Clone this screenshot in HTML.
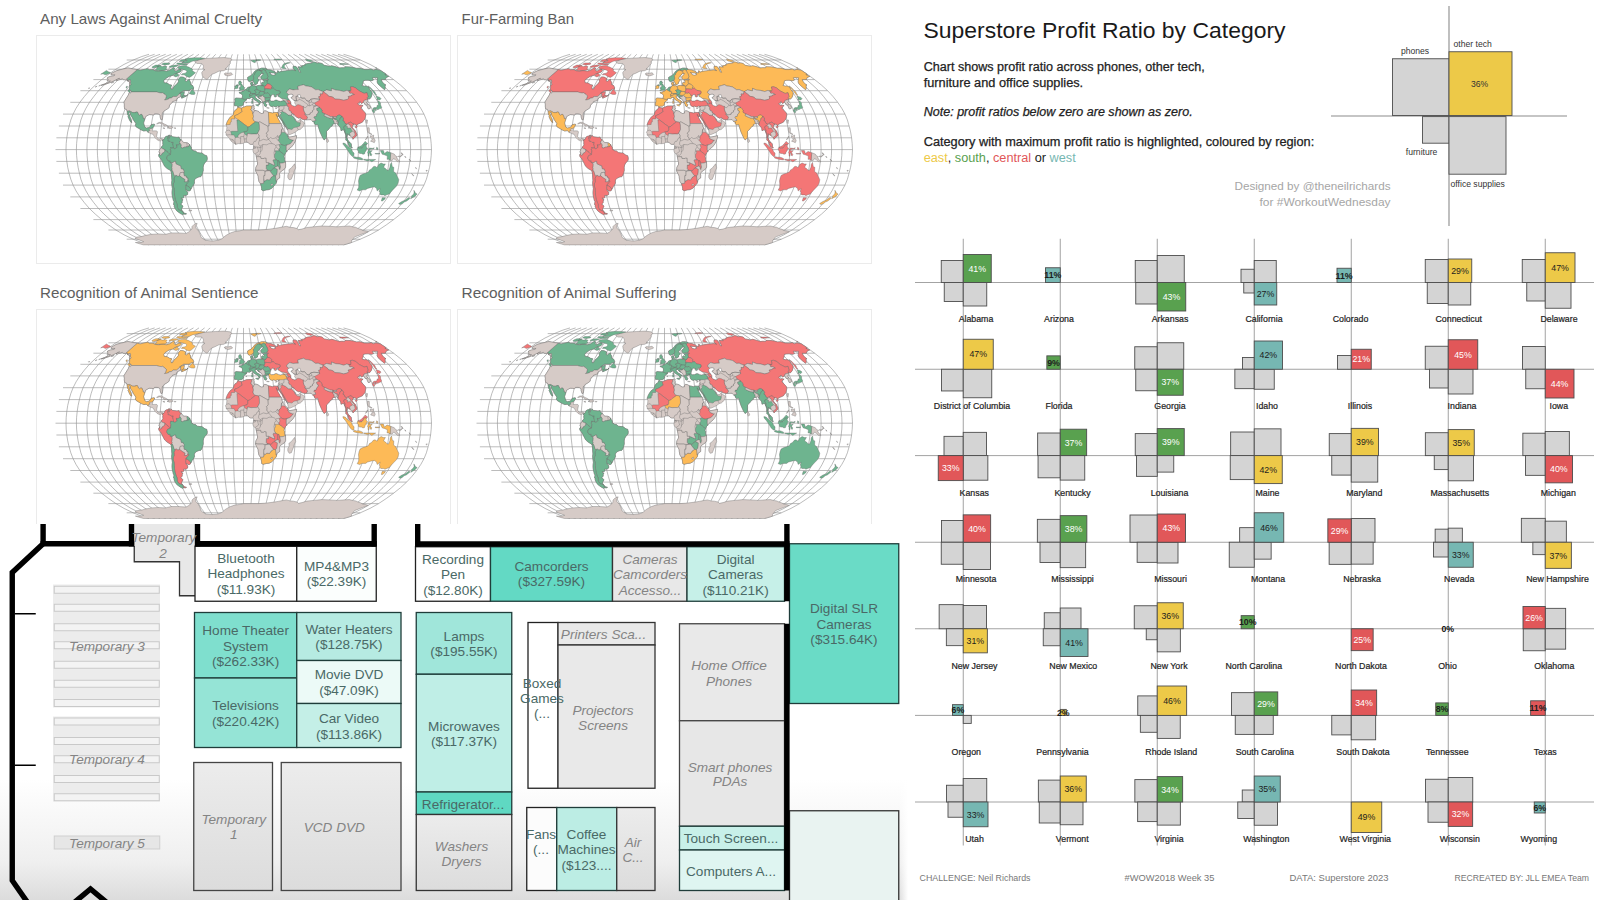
<!DOCTYPE html>
<html lang="en"><head><meta charset="utf-8"><title>Dashboard</title>
<style>html,body{margin:0;padding:0;background:#fff;overflow:hidden}svg{display:block}text{font-family:'Liberation Sans', Arial, sans-serif;}</style>
</head><body>
<svg width="1600" height="900" viewBox="0 0 1600 900">
<rect width="1600" height="900" fill="#fff"/>
<rect x="36.5" y="35.5" width="414" height="228" fill="#fff" stroke="#ebebeb" stroke-width="1"/>
<rect x="457.5" y="35.5" width="414" height="228" fill="#fff" stroke="#ebebeb" stroke-width="1"/>
<rect x="36.5" y="309.5" width="414" height="228" fill="#fff" stroke="#ebebeb" stroke-width="1"/>
<rect x="457.5" y="309.5" width="414" height="228" fill="#fff" stroke="#ebebeb" stroke-width="1"/>
<text x="40" y="24" font-size="15" fill="#5e5e5e" textLength="222" lengthAdjust="spacingAndGlyphs">Any Laws Against Animal Cruelty</text>
<text x="461.6" y="24" font-size="15" fill="#5e5e5e" textLength="112.5" lengthAdjust="spacingAndGlyphs">Fur-Farming Ban</text>
<text x="40" y="298" font-size="15" fill="#5e5e5e" textLength="218.5" lengthAdjust="spacingAndGlyphs">Recognition of Animal Sentience</text>
<text x="461.6" y="298" font-size="15" fill="#5e5e5e" textLength="215" lengthAdjust="spacingAndGlyphs">Recognition of Animal Suffering</text>
<g id="maps">
<defs>
<path id="grat" d="M-94.5,95.3L-101.6,93.1L-110.3,89.6L-119.5,85.2L-127.6,80.4L-134.9,75.3L-141.8,70.0L-148.2,64.5L-154.1,58.9L-159.1,53.1L-163.6,47.3L-167.4,41.4L-170.4,35.5L-172.7,29.6L-174.4,23.6L-175.8,17.7L-176.7,11.8L-177.3,5.9L-177.5,-0.0L-177.3,-5.9L-176.7,-11.8L-175.8,-17.7L-174.4,-23.6L-172.7,-29.6L-170.4,-35.5L-167.4,-41.4L-163.6,-47.3L-159.1,-53.1L-154.1,-58.9L-148.2,-64.5L-141.8,-70.0L-134.9,-75.3L-127.6,-80.4L-119.5,-85.2L-110.3,-89.6L-101.6,-93.1L-94.5,-95.3M-88.9,95.3L-95.6,93.1L-103.8,89.6L-112.5,85.2L-120.1,80.4L-126.9,75.3L-133.4,70.0L-139.5,64.5L-145.0,58.9L-149.7,53.1L-154.0,47.3L-157.5,41.4L-160.4,35.5L-162.6,29.6L-164.1,23.6L-165.4,17.7L-166.3,11.8L-166.9,5.9L-167.1,-0.0L-166.9,-5.9L-166.3,-11.8L-165.4,-17.7L-164.1,-23.6L-162.6,-29.6L-160.4,-35.5L-157.5,-41.4L-154.0,-47.3L-149.7,-53.1L-145.0,-58.9L-139.5,-64.5L-133.4,-70.0L-126.9,-75.3L-120.1,-80.4L-112.5,-85.2L-103.8,-89.6L-95.6,-93.1L-88.9,-95.3M-83.4,95.3L-89.6,93.1L-97.3,89.6L-105.5,85.2L-112.6,80.4L-119.0,75.3L-125.1,70.0L-130.8,64.5L-136.0,58.9L-140.4,53.1L-144.4,47.3L-147.7,41.4L-150.4,35.5L-152.4,29.6L-153.9,23.6L-155.1,17.7L-155.9,11.8L-156.4,5.9L-156.6,-0.0L-156.4,-5.9L-155.9,-11.8L-155.1,-17.7L-153.9,-23.6L-152.4,-29.6L-150.4,-35.5L-147.7,-41.4L-144.4,-47.3L-140.4,-53.1L-136.0,-58.9L-130.8,-64.5L-125.1,-70.0L-119.0,-75.3L-112.6,-80.4L-105.5,-85.2L-97.3,-89.6L-89.6,-93.1L-83.4,-95.3M-77.8,95.3L-83.7,93.1L-90.8,89.6L-98.4,85.2L-105.1,80.4L-111.1,75.3L-116.8,70.0L-122.1,64.5L-126.9,58.9L-131.0,53.1L-134.7,47.3L-137.8,41.4L-140.4,35.5L-142.3,29.6L-143.6,23.6L-144.7,17.7L-145.5,11.8L-146.0,5.9L-146.2,-0.0L-146.0,-5.9L-145.5,-11.8L-144.7,-17.7L-143.6,-23.6L-142.3,-29.6L-140.4,-35.5L-137.8,-41.4L-134.7,-47.3L-131.0,-53.1L-126.9,-58.9L-122.1,-64.5L-116.8,-70.0L-111.1,-75.3L-105.1,-80.4L-98.4,-85.2L-90.8,-89.6L-83.7,-93.1L-77.8,-95.3M-72.3,95.3L-77.7,93.1L-84.3,89.6L-91.4,85.2L-97.6,80.4L-103.1,75.3L-108.4,70.0L-113.4,64.5L-117.8,58.9L-121.7,53.1L-125.1,47.3L-128.0,41.4L-130.3,35.5L-132.1,29.6L-133.3,23.6L-134.4,17.7L-135.1,11.8L-135.6,5.9L-135.8,-0.0L-135.6,-5.9L-135.1,-11.8L-134.4,-17.7L-133.3,-23.6L-132.1,-29.6L-130.3,-35.5L-128.0,-41.4L-125.1,-47.3L-121.7,-53.1L-117.8,-58.9L-113.4,-64.5L-108.4,-70.0L-103.1,-75.3L-97.6,-80.4L-91.4,-85.2L-84.3,-89.6L-77.7,-93.1L-72.3,-95.3M-66.7,95.3L-71.7,93.1L-77.9,89.6L-84.4,85.2L-90.1,80.4L-95.2,75.3L-100.1,70.0L-104.6,64.5L-108.8,58.9L-112.3,53.1L-115.5,47.3L-118.1,41.4L-120.3,35.5L-121.9,29.6L-123.1,23.6L-124.1,17.7L-124.7,11.8L-125.1,5.9L-125.3,-0.0L-125.1,-5.9L-124.7,-11.8L-124.1,-17.7L-123.1,-23.6L-121.9,-29.6L-120.3,-35.5L-118.1,-41.4L-115.5,-47.3L-112.3,-53.1L-108.8,-58.9L-104.6,-64.5L-100.1,-70.0L-95.2,-75.3L-90.1,-80.4L-84.4,-85.2L-77.9,-89.6L-71.7,-93.1L-66.7,-95.3M-61.1,95.3L-65.7,93.1L-71.4,89.6L-77.3,85.2L-82.5,80.4L-87.3,75.3L-91.7,70.0L-95.9,64.5L-99.7,58.9L-102.9,53.1L-105.9,47.3L-108.3,41.4L-110.3,35.5L-111.8,29.6L-112.8,23.6L-113.7,17.7L-114.3,11.8L-114.7,5.9L-114.9,-0.0L-114.7,-5.9L-114.3,-11.8L-113.7,-17.7L-112.8,-23.6L-111.8,-29.6L-110.3,-35.5L-108.3,-41.4L-105.9,-47.3L-102.9,-53.1L-99.7,-58.9L-95.9,-64.5L-91.7,-70.0L-87.3,-75.3L-82.5,-80.4L-77.3,-85.2L-71.4,-89.6L-65.7,-93.1L-61.1,-95.3M-55.6,95.3L-59.8,93.1L-64.9,89.6L-70.3,85.2L-75.0,80.4L-79.3,75.3L-83.4,70.0L-87.2,64.5L-90.6,58.9L-93.6,53.1L-96.2,47.3L-98.4,41.4L-100.3,35.5L-101.6,29.6L-102.6,23.6L-103.4,17.7L-103.9,11.8L-104.3,5.9L-104.4,-0.0L-104.3,-5.9L-103.9,-11.8L-103.4,-17.7L-102.6,-23.6L-101.6,-29.6L-100.3,-35.5L-98.4,-41.4L-96.2,-47.3L-93.6,-53.1L-90.6,-58.9L-87.2,-64.5L-83.4,-70.0L-79.3,-75.3L-75.0,-80.4L-70.3,-85.2L-64.9,-89.6L-59.8,-93.1L-55.6,-95.3M-50.0,95.3L-53.8,93.1L-58.4,89.6L-63.3,85.2L-67.5,80.4L-71.4,75.3L-75.1,70.0L-78.5,64.5L-81.6,58.9L-84.2,53.1L-86.6,47.3L-88.6,41.4L-90.2,35.5L-91.4,29.6L-92.3,23.6L-93.0,17.7L-93.6,11.8L-93.9,5.9L-94.0,-0.0L-93.9,-5.9L-93.6,-11.8L-93.0,-17.7L-92.3,-23.6L-91.4,-29.6L-90.2,-35.5L-88.6,-41.4L-86.6,-47.3L-84.2,-53.1L-81.6,-58.9L-78.5,-64.5L-75.1,-70.0L-71.4,-75.3L-67.5,-80.4L-63.3,-85.2L-58.4,-89.6L-53.8,-93.1L-50.0,-95.3M-44.5,95.3L-47.8,93.1L-51.9,89.6L-56.2,85.2L-60.0,80.4L-63.5,75.3L-66.7,70.0L-69.8,64.5L-72.5,58.9L-74.9,53.1L-77.0,47.3L-78.8,41.4L-80.2,35.5L-81.3,29.6L-82.1,23.6L-82.7,17.7L-83.2,11.8L-83.4,5.9L-83.5,-0.0L-83.4,-5.9L-83.2,-11.8L-82.7,-17.7L-82.1,-23.6L-81.3,-29.6L-80.2,-35.5L-78.8,-41.4L-77.0,-47.3L-74.9,-53.1L-72.5,-58.9L-69.8,-64.5L-66.7,-70.0L-63.5,-75.3L-60.0,-80.4L-56.2,-85.2L-51.9,-89.6L-47.8,-93.1L-44.5,-95.3M-38.9,95.3L-41.8,93.1L-45.4,89.6L-49.2,85.2L-52.5,80.4L-55.5,75.3L-58.4,70.0L-61.0,64.5L-63.4,58.9L-65.5,53.1L-67.4,47.3L-68.9,41.4L-70.2,35.5L-71.1,29.6L-71.8,23.6L-72.4,17.7L-72.8,11.8L-73.0,5.9L-73.1,-0.0L-73.0,-5.9L-72.8,-11.8L-72.4,-17.7L-71.8,-23.6L-71.1,-29.6L-70.2,-35.5L-68.9,-41.4L-67.4,-47.3L-65.5,-53.1L-63.4,-58.9L-61.0,-64.5L-58.4,-70.0L-55.5,-75.3L-52.5,-80.4L-49.2,-85.2L-45.4,-89.6L-41.8,-93.1L-38.9,-95.3M-33.3,95.3L-35.9,93.1L-38.9,89.6L-42.2,85.2L-45.0,80.4L-47.6,75.3L-50.0,70.0L-52.3,64.5L-54.4,58.9L-56.2,53.1L-57.7,47.3L-59.1,41.4L-60.2,35.5L-61.0,29.6L-61.5,23.6L-62.0,17.7L-62.4,11.8L-62.6,5.9L-62.7,-0.0L-62.6,-5.9L-62.4,-11.8L-62.0,-17.7L-61.5,-23.6L-61.0,-29.6L-60.2,-35.5L-59.1,-41.4L-57.7,-47.3L-56.2,-53.1L-54.4,-58.9L-52.3,-64.5L-50.0,-70.0L-47.6,-75.3L-45.0,-80.4L-42.2,-85.2L-38.9,-89.6L-35.9,-93.1L-33.3,-95.3M-27.8,95.3L-29.9,93.1L-32.4,89.6L-35.2,85.2L-37.5,80.4L-39.7,75.3L-41.7,70.0L-43.6,64.5L-45.3,58.9L-46.8,53.1L-48.1,47.3L-49.2,41.4L-50.1,35.5L-50.8,29.6L-51.3,23.6L-51.7,17.7L-52.0,11.8L-52.1,5.9L-52.2,-0.0L-52.1,-5.9L-52.0,-11.8L-51.7,-17.7L-51.3,-23.6L-50.8,-29.6L-50.1,-35.5L-49.2,-41.4L-48.1,-47.3L-46.8,-53.1L-45.3,-58.9L-43.6,-64.5L-41.7,-70.0L-39.7,-75.3L-37.5,-80.4L-35.2,-85.2L-32.4,-89.6L-29.9,-93.1L-27.8,-95.3M-22.2,95.3L-23.9,93.1L-26.0,89.6L-28.1,85.2L-30.0,80.4L-31.7,75.3L-33.4,70.0L-34.9,64.5L-36.3,58.9L-37.4,53.1L-38.5,47.3L-39.4,41.4L-40.1,35.5L-40.6,29.6L-41.0,23.6L-41.4,17.7L-41.6,11.8L-41.7,5.9L-41.8,-0.0L-41.7,-5.9L-41.6,-11.8L-41.4,-17.7L-41.0,-23.6L-40.6,-29.6L-40.1,-35.5L-39.4,-41.4L-38.5,-47.3L-37.4,-53.1L-36.3,-58.9L-34.9,-64.5L-33.4,-70.0L-31.7,-75.3L-30.0,-80.4L-28.1,-85.2L-26.0,-89.6L-23.9,-93.1L-22.2,-95.3M-16.7,95.3L-17.9,93.1L-19.5,89.6L-21.1,85.2L-22.5,80.4L-23.8,75.3L-25.0,70.0L-26.2,64.5L-27.2,58.9L-28.1,53.1L-28.9,47.3L-29.5,41.4L-30.1,35.5L-30.5,29.6L-30.8,23.6L-31.0,17.7L-31.2,11.8L-31.3,5.9L-31.3,-0.0L-31.3,-5.9L-31.2,-11.8L-31.0,-17.7L-30.8,-23.6L-30.5,-29.6L-30.1,-35.5L-29.5,-41.4L-28.9,-47.3L-28.1,-53.1L-27.2,-58.9L-26.2,-64.5L-25.0,-70.0L-23.8,-75.3L-22.5,-80.4L-21.1,-85.2L-19.5,-89.6L-17.9,-93.1L-16.7,-95.3M-11.1,95.3L-12.0,93.1L-13.0,89.6L-14.1,85.2L-15.0,80.4L-15.9,75.3L-16.7,70.0L-17.4,64.5L-18.1,58.9L-18.7,53.1L-19.2,47.3L-19.7,41.4L-20.1,35.5L-20.3,29.6L-20.5,23.6L-20.7,17.7L-20.8,11.8L-20.9,5.9L-20.9,-0.0L-20.9,-5.9L-20.8,-11.8L-20.7,-17.7L-20.5,-23.6L-20.3,-29.6L-20.1,-35.5L-19.7,-41.4L-19.2,-47.3L-18.7,-53.1L-18.1,-58.9L-17.4,-64.5L-16.7,-70.0L-15.9,-75.3L-15.0,-80.4L-14.1,-85.2L-13.0,-89.6L-12.0,-93.1L-11.1,-95.3M-5.6,95.3L-6.0,93.1L-6.5,89.6L-7.0,85.2L-7.5,80.4L-7.9,75.3L-8.3,70.0L-8.7,64.5L-9.1,58.9L-9.4,53.1L-9.6,47.3L-9.8,41.4L-10.0,35.5L-10.2,29.6L-10.3,23.6L-10.3,17.7L-10.4,11.8L-10.4,5.9L-10.4,-0.0L-10.4,-5.9L-10.4,-11.8L-10.3,-17.7L-10.3,-23.6L-10.2,-29.6L-10.0,-35.5L-9.8,-41.4L-9.6,-47.3L-9.4,-53.1L-9.1,-58.9L-8.7,-64.5L-8.3,-70.0L-7.9,-75.3L-7.5,-80.4L-7.0,-85.2L-6.5,-89.6L-6.0,-93.1L-5.6,-95.3M0.0,95.3L0.0,93.1L0.0,89.6L0.0,85.2L0.0,80.4L0.0,75.3L0.0,70.0L0.0,64.5L0.0,58.9L0.0,53.1L0.0,47.3L0.0,41.4L0.0,35.5L0.0,29.6L0.0,23.6L0.0,17.7L0.0,11.8L0.0,5.9L0.0,-0.0L0.0,-5.9L0.0,-11.8L0.0,-17.7L0.0,-23.6L0.0,-29.6L0.0,-35.5L0.0,-41.4L0.0,-47.3L0.0,-53.1L0.0,-58.9L0.0,-64.5L0.0,-70.0L0.0,-75.3L0.0,-80.4L0.0,-85.2L0.0,-89.6L0.0,-93.1L0.0,-95.3M5.6,95.3L6.0,93.1L6.5,89.6L7.0,85.2L7.5,80.4L7.9,75.3L8.3,70.0L8.7,64.5L9.1,58.9L9.4,53.1L9.6,47.3L9.8,41.4L10.0,35.5L10.2,29.6L10.3,23.6L10.3,17.7L10.4,11.8L10.4,5.9L10.4,-0.0L10.4,-5.9L10.4,-11.8L10.3,-17.7L10.3,-23.6L10.2,-29.6L10.0,-35.5L9.8,-41.4L9.6,-47.3L9.4,-53.1L9.1,-58.9L8.7,-64.5L8.3,-70.0L7.9,-75.3L7.5,-80.4L7.0,-85.2L6.5,-89.6L6.0,-93.1L5.6,-95.3M11.1,95.3L12.0,93.1L13.0,89.6L14.1,85.2L15.0,80.4L15.9,75.3L16.7,70.0L17.4,64.5L18.1,58.9L18.7,53.1L19.2,47.3L19.7,41.4L20.1,35.5L20.3,29.6L20.5,23.6L20.7,17.7L20.8,11.8L20.9,5.9L20.9,-0.0L20.9,-5.9L20.8,-11.8L20.7,-17.7L20.5,-23.6L20.3,-29.6L20.1,-35.5L19.7,-41.4L19.2,-47.3L18.7,-53.1L18.1,-58.9L17.4,-64.5L16.7,-70.0L15.9,-75.3L15.0,-80.4L14.1,-85.2L13.0,-89.6L12.0,-93.1L11.1,-95.3M16.7,95.3L17.9,93.1L19.5,89.6L21.1,85.2L22.5,80.4L23.8,75.3L25.0,70.0L26.2,64.5L27.2,58.9L28.1,53.1L28.9,47.3L29.5,41.4L30.1,35.5L30.5,29.6L30.8,23.6L31.0,17.7L31.2,11.8L31.3,5.9L31.3,-0.0L31.3,-5.9L31.2,-11.8L31.0,-17.7L30.8,-23.6L30.5,-29.6L30.1,-35.5L29.5,-41.4L28.9,-47.3L28.1,-53.1L27.2,-58.9L26.2,-64.5L25.0,-70.0L23.8,-75.3L22.5,-80.4L21.1,-85.2L19.5,-89.6L17.9,-93.1L16.7,-95.3M22.2,95.3L23.9,93.1L26.0,89.6L28.1,85.2L30.0,80.4L31.7,75.3L33.4,70.0L34.9,64.5L36.3,58.9L37.4,53.1L38.5,47.3L39.4,41.4L40.1,35.5L40.6,29.6L41.0,23.6L41.4,17.7L41.6,11.8L41.7,5.9L41.8,-0.0L41.7,-5.9L41.6,-11.8L41.4,-17.7L41.0,-23.6L40.6,-29.6L40.1,-35.5L39.4,-41.4L38.5,-47.3L37.4,-53.1L36.3,-58.9L34.9,-64.5L33.4,-70.0L31.7,-75.3L30.0,-80.4L28.1,-85.2L26.0,-89.6L23.9,-93.1L22.2,-95.3M27.8,95.3L29.9,93.1L32.4,89.6L35.2,85.2L37.5,80.4L39.7,75.3L41.7,70.0L43.6,64.5L45.3,58.9L46.8,53.1L48.1,47.3L49.2,41.4L50.1,35.5L50.8,29.6L51.3,23.6L51.7,17.7L52.0,11.8L52.1,5.9L52.2,-0.0L52.1,-5.9L52.0,-11.8L51.7,-17.7L51.3,-23.6L50.8,-29.6L50.1,-35.5L49.2,-41.4L48.1,-47.3L46.8,-53.1L45.3,-58.9L43.6,-64.5L41.7,-70.0L39.7,-75.3L37.5,-80.4L35.2,-85.2L32.4,-89.6L29.9,-93.1L27.8,-95.3M33.3,95.3L35.9,93.1L38.9,89.6L42.2,85.2L45.0,80.4L47.6,75.3L50.0,70.0L52.3,64.5L54.4,58.9L56.2,53.1L57.7,47.3L59.1,41.4L60.2,35.5L61.0,29.6L61.5,23.6L62.0,17.7L62.4,11.8L62.6,5.9L62.7,-0.0L62.6,-5.9L62.4,-11.8L62.0,-17.7L61.5,-23.6L61.0,-29.6L60.2,-35.5L59.1,-41.4L57.7,-47.3L56.2,-53.1L54.4,-58.9L52.3,-64.5L50.0,-70.0L47.6,-75.3L45.0,-80.4L42.2,-85.2L38.9,-89.6L35.9,-93.1L33.3,-95.3M38.9,95.3L41.8,93.1L45.4,89.6L49.2,85.2L52.5,80.4L55.5,75.3L58.4,70.0L61.0,64.5L63.4,58.9L65.5,53.1L67.4,47.3L68.9,41.4L70.2,35.5L71.1,29.6L71.8,23.6L72.4,17.7L72.8,11.8L73.0,5.9L73.1,-0.0L73.0,-5.9L72.8,-11.8L72.4,-17.7L71.8,-23.6L71.1,-29.6L70.2,-35.5L68.9,-41.4L67.4,-47.3L65.5,-53.1L63.4,-58.9L61.0,-64.5L58.4,-70.0L55.5,-75.3L52.5,-80.4L49.2,-85.2L45.4,-89.6L41.8,-93.1L38.9,-95.3M44.5,95.3L47.8,93.1L51.9,89.6L56.2,85.2L60.0,80.4L63.5,75.3L66.7,70.0L69.8,64.5L72.5,58.9L74.9,53.1L77.0,47.3L78.8,41.4L80.2,35.5L81.3,29.6L82.1,23.6L82.7,17.7L83.2,11.8L83.4,5.9L83.5,-0.0L83.4,-5.9L83.2,-11.8L82.7,-17.7L82.1,-23.6L81.3,-29.6L80.2,-35.5L78.8,-41.4L77.0,-47.3L74.9,-53.1L72.5,-58.9L69.8,-64.5L66.7,-70.0L63.5,-75.3L60.0,-80.4L56.2,-85.2L51.9,-89.6L47.8,-93.1L44.5,-95.3M50.0,95.3L53.8,93.1L58.4,89.6L63.3,85.2L67.5,80.4L71.4,75.3L75.1,70.0L78.5,64.5L81.6,58.9L84.2,53.1L86.6,47.3L88.6,41.4L90.2,35.5L91.4,29.6L92.3,23.6L93.0,17.7L93.6,11.8L93.9,5.9L94.0,-0.0L93.9,-5.9L93.6,-11.8L93.0,-17.7L92.3,-23.6L91.4,-29.6L90.2,-35.5L88.6,-41.4L86.6,-47.3L84.2,-53.1L81.6,-58.9L78.5,-64.5L75.1,-70.0L71.4,-75.3L67.5,-80.4L63.3,-85.2L58.4,-89.6L53.8,-93.1L50.0,-95.3M55.6,95.3L59.8,93.1L64.9,89.6L70.3,85.2L75.0,80.4L79.3,75.3L83.4,70.0L87.2,64.5L90.6,58.9L93.6,53.1L96.2,47.3L98.4,41.4L100.3,35.5L101.6,29.6L102.6,23.6L103.4,17.7L103.9,11.8L104.3,5.9L104.4,-0.0L104.3,-5.9L103.9,-11.8L103.4,-17.7L102.6,-23.6L101.6,-29.6L100.3,-35.5L98.4,-41.4L96.2,-47.3L93.6,-53.1L90.6,-58.9L87.2,-64.5L83.4,-70.0L79.3,-75.3L75.0,-80.4L70.3,-85.2L64.9,-89.6L59.8,-93.1L55.6,-95.3M61.1,95.3L65.7,93.1L71.4,89.6L77.3,85.2L82.5,80.4L87.3,75.3L91.7,70.0L95.9,64.5L99.7,58.9L102.9,53.1L105.9,47.3L108.3,41.4L110.3,35.5L111.8,29.6L112.8,23.6L113.7,17.7L114.3,11.8L114.7,5.9L114.9,-0.0L114.7,-5.9L114.3,-11.8L113.7,-17.7L112.8,-23.6L111.8,-29.6L110.3,-35.5L108.3,-41.4L105.9,-47.3L102.9,-53.1L99.7,-58.9L95.9,-64.5L91.7,-70.0L87.3,-75.3L82.5,-80.4L77.3,-85.2L71.4,-89.6L65.7,-93.1L61.1,-95.3M66.7,95.3L71.7,93.1L77.9,89.6L84.4,85.2L90.1,80.4L95.2,75.3L100.1,70.0L104.6,64.5L108.8,58.9L112.3,53.1L115.5,47.3L118.1,41.4L120.3,35.5L121.9,29.6L123.1,23.6L124.1,17.7L124.7,11.8L125.1,5.9L125.3,-0.0L125.1,-5.9L124.7,-11.8L124.1,-17.7L123.1,-23.6L121.9,-29.6L120.3,-35.5L118.1,-41.4L115.5,-47.3L112.3,-53.1L108.8,-58.9L104.6,-64.5L100.1,-70.0L95.2,-75.3L90.1,-80.4L84.4,-85.2L77.9,-89.6L71.7,-93.1L66.7,-95.3M72.3,95.3L77.7,93.1L84.3,89.6L91.4,85.2L97.6,80.4L103.1,75.3L108.4,70.0L113.4,64.5L117.8,58.9L121.7,53.1L125.1,47.3L128.0,41.4L130.3,35.5L132.1,29.6L133.3,23.6L134.4,17.7L135.1,11.8L135.6,5.9L135.8,-0.0L135.6,-5.9L135.1,-11.8L134.4,-17.7L133.3,-23.6L132.1,-29.6L130.3,-35.5L128.0,-41.4L125.1,-47.3L121.7,-53.1L117.8,-58.9L113.4,-64.5L108.4,-70.0L103.1,-75.3L97.6,-80.4L91.4,-85.2L84.3,-89.6L77.7,-93.1L72.3,-95.3M77.8,95.3L83.7,93.1L90.8,89.6L98.4,85.2L105.1,80.4L111.1,75.3L116.8,70.0L122.1,64.5L126.9,58.9L131.0,53.1L134.7,47.3L137.8,41.4L140.4,35.5L142.3,29.6L143.6,23.6L144.7,17.7L145.5,11.8L146.0,5.9L146.2,-0.0L146.0,-5.9L145.5,-11.8L144.7,-17.7L143.6,-23.6L142.3,-29.6L140.4,-35.5L137.8,-41.4L134.7,-47.3L131.0,-53.1L126.9,-58.9L122.1,-64.5L116.8,-70.0L111.1,-75.3L105.1,-80.4L98.4,-85.2L90.8,-89.6L83.7,-93.1L77.8,-95.3M83.4,95.3L89.6,93.1L97.3,89.6L105.5,85.2L112.6,80.4L119.0,75.3L125.1,70.0L130.8,64.5L136.0,58.9L140.4,53.1L144.4,47.3L147.7,41.4L150.4,35.5L152.4,29.6L153.9,23.6L155.1,17.7L155.9,11.8L156.4,5.9L156.6,-0.0L156.4,-5.9L155.9,-11.8L155.1,-17.7L153.9,-23.6L152.4,-29.6L150.4,-35.5L147.7,-41.4L144.4,-47.3L140.4,-53.1L136.0,-58.9L130.8,-64.5L125.1,-70.0L119.0,-75.3L112.6,-80.4L105.5,-85.2L97.3,-89.6L89.6,-93.1L83.4,-95.3M88.9,95.3L95.6,93.1L103.8,89.6L112.5,85.2L120.1,80.4L126.9,75.3L133.4,70.0L139.5,64.5L145.0,58.9L149.7,53.1L154.0,47.3L157.5,41.4L160.4,35.5L162.6,29.6L164.1,23.6L165.4,17.7L166.3,11.8L166.9,5.9L167.1,-0.0L166.9,-5.9L166.3,-11.8L165.4,-17.7L164.1,-23.6L162.6,-29.6L160.4,-35.5L157.5,-41.4L154.0,-47.3L149.7,-53.1L145.0,-58.9L139.5,-64.5L133.4,-70.0L126.9,-75.3L120.1,-80.4L112.5,-85.2L103.8,-89.6L95.6,-93.1L88.9,-95.3M94.5,95.3L101.6,93.1L110.3,89.6L119.5,85.2L127.6,80.4L134.9,75.3L141.8,70.0L148.2,64.5L154.1,58.9L159.1,53.1L163.6,47.3L167.4,41.4L170.4,35.5L172.7,29.6L174.4,23.6L175.8,17.7L176.7,11.8L177.3,5.9L177.5,-0.0L177.3,-5.9L176.7,-11.8L175.8,-17.7L174.4,-23.6L172.7,-29.6L170.4,-35.5L167.4,-41.4L163.6,-47.3L159.1,-53.1L154.1,-58.9L148.2,-64.5L141.8,-70.0L134.9,-75.3L127.6,-80.4L119.5,-85.2L110.3,-89.6L101.6,-93.1L94.5,-95.3M100.0,95.3L107.6,93.1L116.8,89.6L126.5,85.2L135.1,80.4L142.8,75.3L150.1,70.0L157.0,64.5L163.1,58.9L168.5,53.1L173.2,47.3L177.2,41.4L180.5,35.5L182.9,29.6L184.6,23.6L186.1,17.7L187.1,11.8L187.7,5.9L188.0,-0.0L187.7,-5.9L187.1,-11.8L186.1,-17.7L184.6,-23.6L182.9,-29.6L180.5,-35.5L177.2,-41.4L173.2,-47.3L168.5,-53.1L163.1,-58.9L157.0,-64.5L150.1,-70.0L142.8,-75.3L135.1,-80.4L126.5,-85.2L116.8,-89.6L107.6,-93.1L100.0,-95.3M-116.8,89.6H116.8M-135.1,80.4H135.1M-150.1,70.0H150.1M-163.1,58.9H163.1M-173.2,47.3H173.2M-180.5,35.5H180.5M-184.6,23.6H184.6M-187.1,11.8H187.1M-188.0,-0.0H188.0M-187.1,-11.8H187.1M-184.6,-23.6H184.6M-180.5,-35.5H180.5M-173.2,-47.3H173.2M-163.1,-58.9H163.1M-150.1,-70.0H150.1M-135.1,-80.4H135.1M-116.8,-89.6H116.8" fill="none" stroke="#8e8e8e" stroke-width="0.6"/>
<path id="r-base" d="M-132.4,-76.0L-127.4,-78.7L-123.1,-79.9L-115.6,-81.7L-113.0,-81.2L-110.7,-80.7L-106.3,-80.0L-103.4,-79.3L-98.3,-80.4L-95.5,-80.9L-94.4,-79.9L-90.6,-79.9L-88.0,-78.7L-84.5,-78.4L-82.5,-78.9L-80.2,-78.9L-76.8,-78.4L-73.7,-79.4L-70.0,-81.9L-68.9,-81.4L-69.5,-79.9L-68.7,-78.9L-67.6,-78.4L-64.9,-79.9L-62.5,-80.1L-62.2,-78.9L-63.7,-77.4L-66.7,-76.4L-68.8,-75.7L-70.5,-74.3L-74.5,-73.2L-78.4,-70.6L-79.8,-68.9L-79.3,-66.8L-76.4,-66.5L-73.9,-64.9L-71.8,-64.5L-72.7,-62.3L-72.3,-60.4L-70.8,-60.6L-69.3,-63.4L-66.6,-65.6L-65.0,-67.9L-65.3,-70.0L-63.1,-72.7L-60.4,-72.5L-57.8,-71.1L-58.5,-68.9L-57.2,-68.2L-54.1,-70.4L-53.9,-68.9L-52.9,-67.3L-53.0,-65.1L-50.8,-64.0L-49.8,-61.7L-50.2,-60.6L-52.5,-60.4L-54.3,-59.1L-59.7,-59.1L-63.9,-56.4L-59.2,-58.0L-59.4,-56.0L-60.0,-54.3L-56.9,-53.7L-55.5,-55.2L-57.5,-53.3L-61.8,-51.4L-62.0,-52.5L-60.2,-53.7L-62.7,-53.1L-66.0,-51.6L-67.1,-50.2L-66.8,-49.3L-68.9,-48.7L-71.0,-48.0L-71.6,-46.7L-73.2,-45.5L-74.2,-43.7L-74.4,-42.0L-76.5,-40.4L-78.9,-39.0L-80.8,-37.2L-81.5,-35.5L-81.1,-31.9L-81.4,-29.9L-82.5,-29.8L-83.3,-32.5L-83.4,-34.5L-84.7,-35.5L-86.6,-35.9L-89.1,-35.8L-89.9,-34.5L-91.9,-34.9L-94.4,-35.0L-97.8,-33.1L-98.6,-30.7L-99.9,-26.6L-98.8,-22.7L-97.2,-21.5L-94.6,-22.0L-92.9,-23.4L-92.5,-24.8L-90.0,-25.4L-88.8,-25.2L-89.8,-23.1L-90.5,-21.9L-91.1,-19.5L-91.4,-18.7L-88.8,-18.8L-86.7,-18.7L-86.0,-17.7L-86.6,-14.8L-86.9,-13.0L-85.8,-11.2L-84.3,-10.4L-82.7,-11.2L-81.1,-11.0L-80.4,-10.0L-81.1,-8.5L-81.7,-9.8L-83.3,-8.6L-84.9,-9.0L-86.4,-9.8L-88.4,-11.8L-89.1,-13.0L-90.7,-15.4L-91.7,-15.6L-93.2,-16.3L-95.4,-17.1L-97.0,-19.0L-99.7,-18.6L-102.1,-19.6L-105.0,-21.3L-107.3,-22.7L-108.2,-24.2L-107.6,-26.0L-108.6,-27.5L-110.2,-29.9L-110.8,-31.6L-111.9,-33.1L-113.0,-34.9L-113.0,-36.9L-114.4,-37.6L-114.6,-36.1L-113.8,-33.7L-112.9,-31.1L-112.2,-28.7L-111.7,-27.3L-112.5,-27.2L-113.9,-29.3L-114.9,-31.6L-115.5,-32.9L-115.0,-33.7L-115.9,-35.1L-116.3,-37.6L-116.4,-38.4L-117.0,-40.2L-118.9,-40.8L-119.2,-43.5L-119.1,-44.7L-119.4,-46.7L-119.4,-47.7L-118.3,-49.6L-115.2,-54.5L-114.3,-57.0L-113.0,-56.6L-111.8,-57.7L-112.4,-58.9L-114.3,-60.0L-113.9,-61.7L-113.8,-64.0L-114.1,-65.6L-113.8,-67.9L-115.6,-68.2L-115.8,-69.3L-117.1,-69.7L-120.1,-70.0L-121.2,-70.9L-123.8,-70.0L-125.9,-69.3L-127.5,-69.2L-125.8,-70.9L-123.7,-71.3L-128.2,-69.5L-131.3,-67.9L-134.8,-66.5L-138.9,-65.1L-142.4,-64.3L-139.2,-65.6L-134.8,-67.3L-133.0,-68.6L-134.9,-68.7L-136.4,-68.9L-135.1,-70.3L-136.3,-71.1L-135.8,-72.2L-133.2,-73.2L-129.7,-73.8L-128.4,-74.8L-130.0,-74.8L-132.4,-74.8ZM-80.4,-10.0L-80.0,-9.5L-78.4,-12.4L-77.7,-13.1L-75.8,-13.6L-74.2,-14.7L-74.0,-13.9L-74.0,-13.0L-74.8,-11.8L-74.4,-10.9L-73.8,-12.4L-72.7,-13.6L-72.6,-14.4L-71.2,-12.8L-68.6,-12.5L-66.5,-12.2L-64.4,-12.6L-64.3,-11.6L-63.3,-10.2L-62.2,-9.8L-60.9,-8.0L-59.6,-7.0L-57.3,-7.0L-56.3,-6.7L-54.8,-5.8L-53.9,-5.0L-53.2,-3.5L-52.2,-2.1L-52.2,-0.0L-50.6,0.4L-50.1,1.2L-48.0,1.4L-46.2,3.0L-43.3,3.4L-41.8,3.3L-40.2,4.4L-38.6,5.6L-36.8,6.1L-36.2,8.5L-36.4,10.6L-37.9,12.4L-38.9,13.6L-39.9,15.4L-40.3,17.7L-40.2,20.7L-40.8,23.1L-41.3,24.2L-41.9,26.0L-42.9,27.2L-44.4,27.2L-45.9,27.9L-47.3,28.5L-48.7,29.9L-49.2,31.3L-49.0,33.5L-50.1,35.5L-51.4,37.2L-52.1,39.0L-52.8,39.8L-53.2,40.9L-54.2,41.3L-55.3,41.3L-57.3,40.2L-57.7,40.1L-57.6,40.9L-56.2,42.0L-55.8,42.9L-55.9,44.9L-57.1,45.7L-60.0,46.0L-59.7,47.9L-61.0,48.7L-62.3,48.2L-61.9,49.6L-60.4,50.2L-61.4,51.1L-61.3,53.1L-62.8,54.3L-61.9,55.4L-60.5,56.5L-61.4,58.3L-62.0,59.2L-61.8,60.7L-60.9,61.5L-60.5,62.3L-59.3,63.4L-57.0,64.2L-57.9,64.6L-59.8,64.5L-60.8,65.1L-63.0,64.0L-65.0,62.6L-66.8,61.2L-68.4,58.9L-69.4,56.6L-69.0,55.2L-70.0,54.9L-69.7,53.1L-69.4,51.4L-70.1,51.1L-70.5,49.4L-71.0,47.3L-71.4,44.9L-71.5,43.7L-71.5,42.0L-71.1,39.0L-71.7,35.5L-71.9,33.1L-71.6,30.7L-71.8,27.8L-71.9,24.8L-72.3,21.8L-73.7,20.5L-76.4,18.9L-78.9,16.6L-80.1,14.2L-81.6,11.2L-83.1,8.5L-84.6,7.1L-84.8,5.1L-83.8,4.0L-83.5,3.0L-84.6,2.6L-84.1,1.2L-83.5,-0.2L-83.0,-1.2L-82.3,-1.7L-81.9,-3.0L-80.9,-3.8L-80.5,-4.7L-80.8,-6.5L-80.5,-7.8L-81.1,-8.5ZM-5.8,-42.3L-2.2,-41.5L0.0,-42.3L2.9,-43.5L6.8,-43.7L8.4,-43.6L9.7,-44.1L10.7,-43.7L10.3,-42.6L10.9,-40.8L9.9,-40.2L11.4,-39.2L12.9,-38.9L15.1,-38.2L16.0,-37.0L18.0,-36.1L20.0,-36.4L19.9,-37.8L21.3,-38.9L22.9,-38.5L24.9,-37.4L27.0,-37.0L29.0,-36.5L30.9,-37.2L32.2,-37.0L34.1,-37.0L35.0,-34.9L34.7,-33.1L34.5,-32.7L33.4,-33.7L32.7,-35.5L32.8,-34.3L33.8,-32.5L35.0,-30.1L36.1,-28.4L36.4,-27.2L37.7,-26.0L38.2,-24.8L38.2,-23.1L39.6,-21.3L40.8,-18.3L42.4,-17.1L44.6,-15.1L44.9,-13.6L45.7,-12.4L47.8,-12.8L50.9,-13.4L53.1,-13.9L52.8,-11.8L51.6,-8.3L50.1,-5.3L48.0,-2.7L45.9,-1.2L43.9,0.9L43.3,2.0L42.0,3.2L41.3,4.8L40.9,5.6L40.4,7.3L41.1,8.3L40.9,10.0L41.4,11.8L42.0,12.4L42.1,14.8L42.1,17.5L40.7,19.7L38.1,21.3L35.9,23.6L36.2,26.0L36.1,28.4L33.5,30.1L33.2,31.7L32.7,33.7L31.3,35.2L29.9,37.0L28.0,38.8L25.7,40.0L22.7,40.3L19.7,41.1L18.2,40.4L18.1,38.7L17.8,36.6L16.9,34.0L15.4,31.7L14.8,28.4L14.7,26.6L13.6,24.2L12.1,21.3L12.1,20.3L12.4,17.7L14.0,14.8L14.0,12.8L13.5,10.6L12.8,7.1L12.5,5.7L11.5,4.5L9.9,2.8L9.4,1.2L9.7,-0.6L10.1,-2.7L10.2,-4.1L9.3,-5.3L7.3,-5.2L5.7,-5.9L4.5,-7.4L2.8,-7.4L1.3,-7.1L-1.0,-6.1L-3.1,-5.9L-5.2,-6.0L-7.8,-5.2L-9.6,-6.4L-12.0,-8.2L-13.5,-9.8L-14.0,-11.2L-15.6,-13.0L-17.3,-14.5L-17.4,-16.0L-18.1,-17.4L-17.0,-18.9L-16.6,-22.5L-17.4,-24.8L-16.3,-27.8L-15.0,-30.1L-13.1,-32.7L-11.1,-34.0L-10.0,-35.2L-9.7,-37.2L-8.4,-39.4L-6.7,-40.3ZM-8.8,-43.7L-9.2,-45.7L-8.4,-48.4L-8.7,-50.8L-7.5,-51.6L-4.7,-51.4L-1.7,-51.2L-1.1,-52.5L-1.0,-54.3L-2.0,-55.7L-4.3,-56.6L-4.1,-57.3L-1.5,-57.4L-1.5,-58.5L0.2,-58.3L1.4,-59.5L2.2,-60.1L3.1,-60.5L3.7,-61.4L4.3,-62.3L6.2,-62.7L7.5,-63.2L7.7,-64.4L7.1,-65.6L7.0,-66.8L8.9,-67.5L8.9,-66.2L9.3,-66.0L8.5,-64.5L8.6,-64.3L9.6,-63.8L11.0,-63.9L12.5,-63.3L14.4,-64.0L16.2,-64.2L17.4,-63.9L18.3,-64.8L18.0,-66.5L18.8,-67.4L20.1,-66.8L20.7,-67.7L19.7,-69.2L21.8,-69.5L23.5,-69.5L25.2,-69.9L23.6,-70.7L23.1,-70.6L20.8,-70.3L18.8,-70.0L17.6,-71.1L17.3,-72.7L18.1,-73.8L19.8,-75.3L19.9,-76.1L19.0,-76.2L17.4,-75.9L16.8,-74.6L15.4,-73.5L14.2,-71.6L14.3,-70.7L15.7,-69.8L15.2,-68.9L14.1,-67.6L14.0,-66.2L13.4,-65.8L12.4,-65.1L11.3,-65.0L11.0,-66.2L10.1,-67.5L9.4,-68.9L8.9,-69.7L8.0,-68.7L6.1,-67.9L4.7,-68.7L4.2,-70.6L4.1,-72.2L5.7,-73.2L7.6,-74.0L8.6,-75.1L9.8,-76.4L10.8,-77.9L12.2,-79.0L13.9,-80.0L15.7,-80.5L17.8,-81.4L19.3,-81.5L21.1,-81.4L23.2,-80.8L23.2,-80.2L24.9,-79.8L27.3,-79.6L30.8,-78.2L32.1,-77.2L31.3,-76.6L27.3,-76.9L25.7,-77.2L27.2,-75.9L27.9,-74.7L30.1,-74.3L32.3,-74.9L31.5,-76.2L33.2,-76.9L34.4,-76.7L33.9,-78.8L35.3,-78.4L35.8,-77.3L37.0,-78.0L40.6,-78.6L41.7,-78.7L44.1,-79.2L45.7,-79.2L49.2,-79.6L52.3,-78.9L50.5,-80.0L49.7,-81.4L49.6,-83.1L51.7,-83.3L53.3,-82.4L54.7,-79.9L55.9,-77.4L57.2,-77.2L56.2,-79.4L55.1,-81.9L54.6,-82.8L57.0,-82.6L58.9,-82.4L57.8,-83.8L61.7,-84.3L61.2,-85.2L64.4,-86.1L67.6,-86.4L70.3,-87.6L72.9,-87.0L73.1,-86.4L76.2,-86.7L78.6,-86.1L80.6,-84.3L86.0,-83.3L88.2,-83.9L92.4,-82.8L95.8,-81.6L98.0,-81.9L101.1,-81.8L101.8,-82.8L106.5,-82.7L110.5,-81.9L113.2,-81.3L116.4,-81.4L120.5,-80.1L123.7,-80.0L126.4,-80.2L127.8,-80.5L129.7,-79.4L132.4,-80.2L136.7,-79.4L142.8,-75.3L142.4,-74.8L141.3,-75.0L145.2,-73.2L144.1,-72.7L142.6,-72.0L141.8,-70.0L137.6,-70.0L138.7,-67.9L140.3,-65.9L142.4,-64.5L141.5,-64.3L141.6,-62.5L141.7,-60.8L141.1,-59.9L138.1,-62.3L134.5,-65.6L133.6,-67.6L133.8,-68.9L134.0,-70.6L134.1,-71.9L131.6,-72.0L128.8,-71.9L129.9,-69.5L128.0,-68.9L124.5,-69.4L122.1,-69.3L120.0,-68.9L119.5,-67.3L119.3,-65.6L118.4,-64.2L120.9,-63.4L122.4,-63.6L125.0,-62.5L126.4,-60.0L128.5,-57.2L128.4,-54.9L127.7,-52.5L126.1,-50.5L124.7,-51.0L124.3,-50.0L124.2,-48.4L122.8,-47.0L124.4,-45.6L126.3,-43.7L127.1,-42.0L126.6,-41.1L124.8,-40.7L123.9,-42.6L123.3,-44.6L121.5,-44.9L120.8,-46.7L119.7,-47.2L118.0,-46.1L116.5,-48.2L115.0,-46.3L114.0,-45.9L116.0,-44.1L117.8,-44.4L119.6,-44.0L117.9,-42.6L117.4,-41.4L120.0,-38.7L121.8,-36.6L122.3,-34.9L122.0,-33.1L121.4,-30.5L120.0,-29.0L119.0,-27.5L116.7,-26.4L114.1,-25.4L113.1,-24.0L112.0,-25.4L110.5,-25.4L109.3,-24.5L108.6,-22.5L110.3,-20.1L111.8,-18.9L113.3,-15.4L113.1,-13.6L111.2,-12.3L109.5,-10.3L108.9,-12.3L107.5,-12.5L106.8,-13.8L104.7,-15.0L104.1,-16.0L103.8,-14.2L103.1,-12.2L104.1,-10.0L105.1,-8.3L106.3,-7.3L107.8,-5.7L108.0,-3.2L108.8,-1.7L108.0,-1.7L105.7,-3.4L104.7,-5.9L104.3,-7.7L103.1,-9.2L102.3,-9.5L102.4,-11.8L102.2,-14.8L101.1,-17.7L100.6,-19.5L99.0,-19.6L97.5,-18.9L97.2,-21.3L95.9,-23.4L94.5,-24.6L93.8,-26.4L92.5,-26.4L91.0,-25.8L89.0,-25.4L88.7,-23.6L87.3,-23.1L85.0,-20.1L83.0,-18.3L83.1,-15.4L82.9,-12.2L82.2,-11.0L81.2,-10.0L80.7,-9.6L79.3,-11.6L77.8,-14.8L76.5,-17.7L74.9,-22.5L74.4,-24.8L73.7,-25.1L72.2,-24.6L70.5,-26.4L71.4,-27.0L69.9,-27.5L69.4,-28.1L68.1,-29.3L67.5,-30.0L65.0,-29.9L62.6,-29.8L59.7,-30.1L58.0,-30.7L57.4,-32.0L55.2,-31.4L53.0,-32.5L51.1,-34.3L50.1,-35.7L49.0,-35.9L48.1,-35.5L48.5,-33.7L50.0,-32.3L50.8,-31.3L51.6,-29.3L52.0,-30.9L52.4,-29.6L52.4,-28.7L53.4,-28.6L55.0,-28.6L56.8,-30.7L57.1,-31.1L57.3,-29.3L59.6,-27.9L61.1,-26.6L60.0,-24.1L59.3,-22.5L58.1,-21.3L56.7,-20.1L54.8,-19.7L52.7,-18.1L50.2,-16.6L46.6,-15.1L45.1,-15.0L44.5,-17.1L44.2,-19.4L43.2,-21.3L41.5,-23.6L39.9,-25.4L38.7,-28.4L37.0,-30.7L35.3,-33.1L35.2,-34.6L35.0,-34.9L34.1,-37.0L34.6,-38.1L34.8,-39.1L35.3,-40.9L35.2,-42.4L35.4,-43.3L33.7,-43.5L32.3,-42.7L29.9,-43.5L28.7,-42.8L26.7,-43.7L25.6,-45.4L25.9,-46.6L25.2,-47.3L25.6,-47.7L24.9,-48.2L23.5,-48.3L22.9,-47.3L21.8,-47.9L21.9,-46.4L23.3,-44.9L22.7,-43.1L21.9,-43.1L21.2,-43.5L20.6,-45.3L19.5,-46.8L18.5,-49.0L18.4,-49.5L17.6,-50.1L16.6,-50.8L14.6,-51.9L13.6,-53.3L12.8,-53.8L11.5,-53.5L11.7,-52.2L12.8,-51.4L13.5,-50.1L15.2,-49.5L17.8,-47.5L17.7,-47.0L16.3,-47.9L16.0,-46.9L16.5,-46.1L15.7,-44.9L15.3,-44.9L15.5,-46.1L14.7,-47.3L13.7,-48.2L11.7,-49.3L9.9,-50.7L9.6,-51.8L8.4,-52.4L7.1,-51.7L5.9,-50.9L4.5,-51.2L3.0,-51.0L2.9,-50.1L3.0,-49.5L2.1,-48.9L0.3,-47.6L-0.3,-46.6L0.1,-45.7L-0.7,-44.4L-2.0,-43.5L-4.3,-43.4L-5.5,-42.6L-6.3,-43.5L-7.2,-44.0ZM-108.1,92.9L-102.4,92.8L-99.8,92.1L-108.5,88.7L-106.8,87.5L-102.3,87.0L-97.7,85.7L-92.0,84.7L-85.6,84.3L-77.9,84.7L-72.3,83.3L-65.0,83.3L-57.4,83.8L-54.9,82.4L-51.6,79.4L-51.5,76.9L-49.4,74.8L-46.4,73.6L-46.7,74.8L-47.9,76.4L-47.6,78.4L-44.9,81.4L-43.5,84.3L-42.2,87.9L-38.0,90.7L-31.1,91.4L-25.3,90.7L-21.6,89.2L-19.1,87.0L-17.4,85.7L-13.0,83.3L-8.8,81.9L-3.7,81.2L0.0,80.4L7.5,80.4L15.0,80.4L22.6,79.9L26.6,79.4L30.5,78.9L34.6,78.2L38.8,77.4L43.0,76.7L46.4,77.7L50.1,78.0L53.5,78.9L55.0,80.1L58.5,79.4L63.3,77.9L70.0,77.2L78.5,76.4L86.1,76.7L93.4,77.2L101.8,76.6L106.0,76.4L109.0,77.2L112.2,77.7L114.6,78.9L117.3,79.7L119.3,80.9L122.3,81.4L124.8,82.2L119.1,84.3L110.9,87.5L110.1,88.7L108.0,91.1L108.1,92.9L105.9,93.6L103.0,94.5L100.0,95.3L83.4,95.3L66.7,95.3L50.0,95.3L33.3,95.3L16.7,95.3L0.0,95.3L-16.7,95.3L-33.3,95.3L-50.0,95.3L-66.7,95.3L-83.4,95.3L-100.0,95.3L-103.0,94.5L-105.9,93.6ZM-48.8,-88.1L-43.8,-90.0L-37.7,-91.1L-27.9,-91.7L-19.6,-92.1L-13.7,-91.4L-11.6,-90.0L-13.4,-87.9L-13.2,-86.1L-15.0,-84.3L-16.1,-82.4L-18.3,-80.9L-16.9,-80.4L-19.9,-78.9L-24.6,-78.4L-29.1,-76.2L-31.7,-75.3L-34.2,-72.7L-36.3,-70.0L-38.1,-70.8L-40.1,-72.2L-41.3,-74.3L-41.8,-76.9L-40.5,-78.9L-38.5,-79.9L-40.7,-80.9L-40.0,-82.8L-40.4,-84.7L-42.2,-86.1L-46.4,-86.1L-48.2,-87.2ZM51.1,14.2L52.2,18.3L51.0,20.7L49.7,24.8L47.8,29.6L45.7,30.1L44.3,27.8L44.3,25.4L45.7,23.1L45.4,20.1L47.5,18.7L49.7,16.0ZM122.9,-29.8L124.0,-29.6L123.8,-27.8L123.5,-26.0L122.6,-27.2ZM83.2,-11.5L84.6,-10.0L85.2,-8.3L84.1,-7.1L83.4,-7.7L83.1,-9.5ZM-19.1,-76.0L-17.6,-76.8L-16.0,-76.2L-14.1,-76.6L-12.5,-76.9L-11.4,-75.9L-10.8,-75.3L-12.0,-74.6L-14.9,-73.7L-16.9,-74.1L-18.2,-74.2L-17.5,-75.1L-19.1,-75.2ZM-86.9,-25.8L-84.7,-27.2L-82.1,-27.3L-79.3,-25.7L-77.3,-24.8L-76.1,-23.9L-79.5,-23.5L-79.6,-24.4L-80.8,-25.4L-83.8,-26.4L-85.9,-25.8ZM-76.3,-23.4L-73.9,-23.5L-71.7,-23.1L-70.3,-22.0L-72.0,-21.5L-73.6,-20.9L-75.1,-21.5L-76.5,-21.8L-74.5,-22.0L-75.2,-23.2ZM-80.5,-21.8L-78.5,-21.4L-79.3,-21.0L-80.6,-21.5ZM-69.1,-21.8L-67.5,-21.6L-67.9,-21.2L-69.2,-21.3ZM-54.7,60.6L-52.1,60.4L-51.8,61.2L-53.9,61.5ZM147.2,3.1L150.8,4.5L152.2,6.5L154.1,7.1L153.2,8.0L154.1,9.5L156.4,12.2L153.8,12.1L151.9,10.0L149.9,9.1L148.7,10.9L146.7,10.8ZM154.8,6.5L156.9,6.5L158.8,5.0L158.0,6.5L156.3,7.4L154.8,6.9ZM158.6,3.5L159.6,5.3L159.3,5.6L157.4,3.2ZM161.3,6.5L162.5,8.0L161.7,7.7ZM123.9,-21.9L125.7,-21.9L125.9,-19.5L125.7,-17.1L128.5,-15.4L128.1,-14.9L125.3,-16.3L124.3,-17.5L123.9,-19.2ZM127.1,-8.3L128.5,-10.2L130.5,-11.6L131.7,-8.9L130.8,-6.9L129.2,-7.7ZM126.6,-13.9L128.2,-13.6L130.2,-14.5L129.9,-12.2L128.2,-11.0L127.1,-12.4ZM122.0,-10.0L124.1,-13.4L124.0,-12.1L122.3,-9.8ZM165.5,9.5L167.4,11.2L166.9,11.5ZM172.1,17.7L172.7,18.9L173.1,19.5L172.3,18.3ZM168.2,23.9L170.4,26.2L169.6,26.2ZM182.6,20.7L183.9,21.0L183.1,21.6L182.5,21.3ZM23.2,-42.0L25.8,-41.7L25.6,-41.4L23.2,-41.6ZM31.9,-41.4L33.9,-42.1L33.5,-41.3L32.1,-41.0Z"/>
<path id="r-canada" d="M-106.3,-80.0L-103.4,-79.3L-98.3,-80.4L-95.5,-80.9L-94.4,-79.9L-90.6,-79.9L-88.0,-78.7L-84.5,-78.4L-82.5,-78.9L-80.2,-78.9L-76.8,-78.4L-73.7,-79.4L-70.0,-81.9L-68.9,-81.4L-69.5,-79.9L-68.7,-78.9L-67.6,-78.4L-64.9,-79.9L-62.5,-80.1L-62.2,-78.9L-63.7,-77.4L-66.7,-76.4L-68.8,-75.7L-70.5,-74.3L-74.5,-73.2L-78.4,-70.6L-79.8,-68.9L-79.3,-66.8L-76.4,-66.5L-73.9,-64.9L-71.8,-64.5L-72.7,-62.3L-72.3,-60.4L-70.8,-60.6L-69.3,-63.4L-66.6,-65.6L-65.0,-67.9L-65.3,-70.0L-63.1,-72.7L-60.4,-72.5L-57.8,-71.1L-58.5,-68.9L-57.2,-68.2L-54.1,-70.4L-53.9,-68.9L-52.9,-67.3L-53.0,-65.1L-50.8,-64.0L-49.8,-61.7L-50.2,-60.6L-52.5,-60.4L-54.3,-59.1L-59.7,-59.1L-63.9,-56.4L-59.2,-58.0L-59.4,-56.0L-60.0,-54.3L-56.9,-53.7L-55.5,-55.2L-57.5,-53.3L-61.8,-51.4L-62.0,-52.5L-60.2,-53.7L-62.7,-53.1L-63.1,-54.0L-62.6,-55.5L-63.8,-55.9L-65.3,-54.5L-66.9,-53.1L-70.2,-53.1L-72.1,-51.7L-74.6,-51.4L-74.9,-50.5L-77.5,-49.8L-79.1,-49.6L-78.0,-50.8L-77.1,-53.5L-77.7,-54.3L-78.5,-55.2L-81.1,-56.9L-82.2,-56.6L-84.4,-56.9L-86.5,-57.5L-86.9,-57.7L-111.8,-57.7L-112.4,-58.9L-114.3,-60.0L-113.9,-61.7L-113.8,-64.0L-112.4,-65.6L-113.3,-66.4L-112.9,-68.4L-113.3,-69.7L-115.9,-68.8L-115.9,-70.0L-117.3,-70.4ZM-48.0,-76.9L-51.7,-73.6L-54.0,-72.2L-55.8,-72.7L-58.0,-73.8L-59.4,-74.8L-62.2,-74.8L-61.2,-75.9L-58.1,-76.4L-56.6,-78.2L-57.7,-79.4L-59.6,-79.9L-61.5,-80.4L-64.3,-80.7L-65.9,-81.9L-64.3,-83.3L-61.0,-83.8L-58.0,-84.0L-56.5,-83.1L-54.8,-82.6L-52.6,-81.4L-51.0,-80.4L-51.2,-78.9L-49.2,-77.6ZM-88.8,-79.4L-86.3,-78.9L-82.3,-79.1L-79.1,-79.3L-76.4,-80.2L-77.5,-81.4L-76.4,-82.8L-77.8,-83.5L-81.2,-83.1L-82.8,-83.6L-86.0,-83.0L-87.2,-81.7L-86.5,-80.9ZM-91.6,-82.3L-90.6,-81.6L-88.3,-82.0L-84.9,-83.3L-82.4,-84.3L-84.5,-84.5L-87.7,-84.5L-90.9,-83.1ZM-61.8,-86.6L-57.9,-86.4L-54.4,-86.8L-51.2,-88.3L-46.2,-89.4L-42.1,-90.3L-38.7,-91.3L-43.2,-91.8L-49.3,-91.9L-55.6,-91.3L-58.5,-90.5L-56.8,-89.8L-56.7,-88.7L-60.0,-87.9ZM-67.0,-85.7L-63.6,-84.8L-59.5,-84.7L-56.5,-84.9L-55.7,-85.8L-59.7,-85.9L-63.2,-86.6L-66.0,-86.6ZM-82.0,-85.4L-79.3,-84.7L-74.5,-85.2L-73.4,-86.1L-75.6,-86.6L-79.7,-86.6ZM-74.7,-82.4L-70.3,-82.4L-67.0,-83.1L-64.9,-84.3L-67.9,-84.5L-71.5,-84.1L-73.7,-83.3ZM-64.2,-88.1L-60.2,-88.1L-56.9,-89.2L-58.1,-90.3L-62.3,-89.6ZM-70.1,-73.8L-67.6,-72.7L-64.9,-73.8L-65.1,-75.3L-66.7,-76.4L-69.0,-74.8ZM-54.6,-56.2L-51.8,-55.2L-49.1,-55.1L-48.5,-56.1L-48.8,-57.7L-50.3,-58.9L-49.9,-60.6L-51.7,-59.5L-53.6,-57.2ZM-115.6,-59.8L-113.5,-59.2L-113.1,-57.2L-114.1,-57.0L-115.2,-58.1ZM-116.9,-63.4L-116.0,-63.3L-116.8,-61.4L-117.6,-62.1Z"/>
<path id="r-usa" d="M-62.7,-53.1L-66.0,-51.6L-67.1,-50.2L-66.8,-49.3L-68.9,-48.7L-71.0,-48.0L-71.6,-46.7L-73.2,-45.5L-74.2,-43.7L-74.4,-42.0L-76.5,-40.4L-78.9,-39.0L-80.8,-37.2L-81.5,-35.5L-81.1,-31.9L-81.4,-29.9L-82.5,-29.8L-83.3,-32.5L-83.4,-34.5L-84.7,-35.5L-86.6,-35.9L-89.1,-35.8L-89.9,-34.5L-91.9,-34.9L-94.4,-35.0L-97.8,-33.1L-98.6,-30.7L-100.3,-31.2L-100.5,-32.5L-101.7,-35.2L-102.8,-35.2L-103.8,-34.3L-104.9,-35.0L-106.1,-37.6L-107.8,-37.6L-108.0,-37.0L-110.8,-37.0L-113.9,-38.7L-116.4,-38.4L-117.0,-40.2L-118.9,-40.8L-119.2,-43.5L-119.1,-44.7L-119.4,-46.7L-119.4,-47.7L-118.3,-49.6L-115.2,-54.5L-114.3,-57.0L-113.0,-56.6L-111.8,-57.7L-86.9,-57.7L-86.5,-57.5L-84.4,-56.9L-82.2,-56.6L-81.1,-56.9L-78.5,-55.2L-77.7,-54.3L-77.1,-53.5L-78.0,-50.8L-79.1,-49.6L-77.5,-49.8L-74.9,-50.5L-74.6,-51.4L-72.1,-51.7L-70.2,-53.1L-66.9,-53.1L-65.3,-54.5L-63.8,-55.9L-62.6,-55.5L-63.1,-54.0ZM-113.8,-64.0L-114.1,-65.6L-113.8,-67.9L-115.6,-68.2L-115.8,-69.3L-117.1,-69.7L-120.1,-70.0L-121.2,-70.9L-123.8,-70.0L-125.9,-69.3L-127.5,-69.2L-125.8,-70.9L-123.7,-71.3L-128.2,-69.5L-131.3,-67.9L-134.8,-66.5L-138.9,-65.1L-142.4,-64.3L-139.2,-65.6L-134.8,-67.3L-133.0,-68.6L-134.9,-68.7L-136.4,-68.9L-135.1,-70.3L-136.3,-71.1L-135.8,-72.2L-133.2,-73.2L-129.7,-73.8L-128.4,-74.8L-130.0,-74.8L-132.4,-74.8L-132.4,-76.0L-127.4,-78.7L-123.1,-79.9L-115.6,-81.7L-113.0,-81.2L-110.7,-80.7L-106.3,-80.0L-117.3,-70.4L-115.9,-70.0L-115.9,-68.8L-113.3,-69.7L-112.9,-68.4L-113.3,-66.4L-112.4,-65.6ZM-144.8,-63.6L-142.7,-64.4L-144.3,-63.8ZM-148.4,-62.7L-146.4,-63.4L-147.9,-62.6ZM-155.2,-61.4L-153.6,-61.6L-155.0,-61.2ZM-131.2,-67.3L-129.3,-67.9L-130.5,-67.0L-132.4,-66.6Z"/>
<path id="r-mexico" d="M-98.6,-30.7L-99.9,-26.6L-98.8,-22.7L-97.2,-21.5L-94.6,-22.0L-92.9,-23.4L-92.5,-24.8L-90.0,-25.4L-88.8,-25.2L-89.8,-23.1L-90.5,-21.9L-91.7,-21.2L-93.7,-21.0L-94.2,-20.3L-93.4,-19.0L-94.7,-19.0L-95.4,-17.1L-97.0,-19.0L-99.7,-18.6L-102.1,-19.6L-105.0,-21.3L-107.3,-22.7L-108.2,-24.2L-107.6,-26.0L-108.6,-27.5L-110.2,-29.9L-110.8,-31.6L-111.9,-33.1L-113.0,-34.9L-113.0,-36.9L-114.4,-37.6L-114.6,-36.1L-113.8,-33.7L-112.9,-31.1L-112.2,-28.7L-111.7,-27.3L-112.5,-27.2L-113.9,-29.3L-114.9,-31.6L-115.5,-32.9L-115.0,-33.7L-115.9,-35.1L-116.3,-37.6L-116.4,-38.4L-113.9,-38.7L-110.8,-37.0L-108.0,-37.0L-107.8,-37.6L-106.1,-37.6L-104.9,-35.0L-103.8,-34.3L-102.8,-35.2L-101.7,-35.2L-100.5,-32.5L-100.3,-31.2Z"/>
<path id="r-colombia" d="M-82.3,-1.7L-81.9,-3.0L-80.9,-3.8L-80.5,-4.7L-80.8,-6.5L-80.5,-7.8L-81.1,-8.5L-80.4,-10.0L-80.0,-9.5L-78.4,-12.4L-77.7,-13.1L-75.8,-13.6L-74.2,-14.7L-74.0,-13.9L-75.3,-13.0L-75.9,-11.2L-75.2,-10.0L-75.4,-8.6L-73.4,-8.3L-72.4,-7.2L-70.3,-7.3L-70.7,-5.3L-70.2,-3.9L-70.0,-1.4L-72.9,-2.0L-72.3,-1.2L-73.1,-0.6L-73.1,0.2L-72.6,1.2L-73.0,5.0L-73.8,4.5L-75.2,3.0L-76.7,2.1L-78.5,0.1L-79.9,-0.4L-80.9,-0.8Z"/>
<path id="r-venezuela" d="M-74.0,-13.9L-74.0,-13.0L-74.8,-11.8L-74.4,-10.9L-73.8,-12.4L-72.7,-13.6L-72.6,-14.4L-71.2,-12.8L-68.6,-12.5L-66.5,-12.2L-64.4,-12.6L-64.3,-11.6L-63.3,-10.2L-62.2,-9.8L-63.0,-8.9L-63.8,-7.7L-63.9,-7.0L-63.3,-6.1L-64.7,-5.0L-65.7,-4.5L-67.1,-4.8L-66.8,-3.0L-66.2,-2.6L-68.4,-0.9L-69.2,-0.9L-70.0,-1.4L-70.2,-3.9L-70.7,-5.3L-70.3,-7.3L-72.4,-7.2L-73.4,-8.3L-75.4,-8.6L-75.2,-10.0L-75.9,-11.2L-75.3,-13.0Z"/>
<path id="r-guianas" d="M-62.2,-9.8L-60.9,-8.0L-59.6,-7.0L-57.3,-7.0L-56.3,-6.7L-54.8,-5.8L-53.9,-5.0L-54.8,-3.0L-56.9,-2.7L-58.5,-2.4L-59.5,-2.4L-60.6,-1.5L-62.1,-1.7L-62.6,-3.0L-62.4,-4.7L-63.3,-6.1L-63.9,-7.0L-63.8,-7.7L-63.0,-8.9Z"/>
<path id="r-frguiana" d="M-56.3,-6.7L-54.8,-5.8L-53.9,-5.0L-54.8,-3.0L-56.9,-2.7L-56.3,-4.1L-56.7,-5.9Z"/>
<path id="r-ecuador" d="M-83.8,4.0L-83.5,3.0L-84.6,2.6L-84.1,1.2L-83.5,-0.2L-83.0,-1.2L-82.3,-1.7L-80.9,-0.8L-79.9,-0.4L-78.5,0.1L-78.8,1.8L-79.9,3.1L-81.4,3.8L-81.9,5.3L-82.9,5.9L-83.8,5.2Z"/>
<path id="r-peru" d="M-72.3,21.8L-73.7,20.5L-76.4,18.9L-78.9,16.6L-80.1,14.2L-81.6,11.2L-83.1,8.5L-84.6,7.1L-84.8,5.1L-83.8,4.0L-83.8,5.2L-82.9,5.9L-81.9,5.3L-81.4,3.8L-79.9,3.1L-78.8,1.8L-78.5,0.1L-76.7,2.1L-75.2,3.0L-73.8,4.5L-73.0,5.0L-75.9,6.0L-76.9,8.6L-75.4,11.2L-73.3,11.2L-73.3,13.0L-72.2,13.0L-71.2,14.8L-71.4,17.1L-71.8,18.3L-71.2,19.2L-71.7,20.7Z"/>
<path id="r-bolivia" d="M-72.2,13.0L-71.1,13.0L-69.1,11.8L-67.9,11.6L-67.4,14.2L-64.8,15.4L-62.7,16.2L-62.1,19.2L-60.2,19.3L-60.0,20.5L-59.2,21.3L-59.5,23.4L-60.8,22.8L-63.3,23.2L-64.0,26.2L-65.6,27.0L-66.6,26.1L-67.8,25.8L-68.6,27.0L-69.6,25.4L-70.3,23.1L-71.0,21.3L-71.7,20.7L-71.2,19.2L-71.8,18.3L-71.4,17.1L-71.2,14.8Z"/>
<path id="r-paraguay" d="M-59.5,23.4L-59.2,26.1L-57.2,26.4L-56.5,28.4L-55.3,28.5L-55.4,30.3L-56.4,32.4L-59.2,32.2L-58.5,30.0L-61.1,28.4L-64.0,26.2L-63.3,23.2L-60.8,22.8Z"/>
<path id="r-uruguay" d="M-52.8,39.8L-53.2,40.9L-54.2,41.3L-55.3,41.3L-57.3,40.2L-57.7,40.1L-57.9,38.4L-57.7,35.7L-56.6,35.7L-55.5,36.5L-53.2,38.4Z"/>
<path id="r-argentina" d="M-57.7,40.1L-57.6,40.9L-56.2,42.0L-55.8,42.9L-55.9,44.9L-57.1,45.7L-60.0,46.0L-59.7,47.9L-61.0,48.7L-62.3,48.2L-61.9,49.6L-60.4,50.2L-61.4,51.1L-61.3,53.1L-62.8,54.3L-61.9,55.4L-60.5,56.5L-61.4,58.3L-62.0,59.2L-61.8,60.7L-60.9,61.5L-62.5,61.2L-65.1,60.0L-66.2,57.7L-66.3,54.9L-67.6,51.9L-68.6,48.4L-69.0,45.5L-69.1,42.6L-69.4,39.4L-70.2,36.6L-70.2,34.3L-69.3,31.9L-69.6,29.0L-68.6,27.0L-67.8,25.8L-66.6,26.1L-65.6,27.0L-64.0,26.2L-61.1,28.4L-58.5,30.0L-59.2,32.2L-56.4,32.4L-55.4,30.3L-54.4,31.9L-56.2,33.6L-57.7,35.7L-57.9,38.4ZM-60.9,61.5L-60.5,62.3L-59.3,63.4L-57.0,64.2L-57.9,64.6L-59.8,64.5L-60.6,62.9Z"/>
<path id="r-chile" d="M-59.8,64.5L-60.8,65.1L-63.0,64.0L-65.0,62.6L-66.8,61.2L-68.4,58.9L-69.4,56.6L-69.0,55.2L-70.0,54.9L-69.7,53.1L-69.4,51.4L-70.1,51.1L-70.5,49.4L-71.0,47.3L-71.4,44.9L-71.5,43.7L-71.5,42.0L-71.1,39.0L-71.7,35.5L-71.9,33.1L-71.6,30.7L-71.8,27.8L-71.9,24.8L-72.3,21.8L-71.7,20.7L-71.0,21.3L-70.3,23.1L-69.6,25.4L-68.6,27.0L-69.6,29.0L-69.3,31.9L-70.2,34.3L-70.2,36.6L-69.4,39.4L-69.1,42.6L-69.0,45.5L-68.6,48.4L-67.6,51.9L-66.3,54.9L-66.2,57.7L-65.1,60.0L-62.5,61.2L-60.9,61.5L-60.6,62.9Z"/>
<path id="r-brazil" d="M-53.9,-5.0L-53.2,-3.5L-52.2,-2.1L-52.2,-0.0L-50.6,0.4L-50.1,1.2L-48.0,1.4L-46.2,3.0L-43.3,3.4L-41.8,3.3L-40.2,4.4L-38.6,5.6L-36.8,6.1L-36.2,8.5L-36.4,10.6L-37.9,12.4L-38.9,13.6L-39.9,15.4L-40.3,17.7L-40.2,20.7L-40.8,23.1L-41.3,24.2L-41.9,26.0L-42.9,27.2L-44.4,27.2L-45.9,27.9L-47.3,28.5L-48.7,29.9L-49.2,31.3L-49.0,33.5L-50.1,35.5L-51.4,37.2L-52.1,39.0L-52.8,39.8L-53.2,38.4L-55.5,36.5L-56.6,35.7L-57.7,35.7L-56.2,33.6L-54.4,31.9L-55.4,30.3L-55.3,28.5L-56.5,28.4L-57.2,26.4L-59.2,26.1L-59.5,23.4L-59.2,21.3L-60.0,20.5L-60.2,19.3L-62.1,19.2L-62.7,16.2L-64.8,15.4L-67.4,14.2L-67.9,11.6L-69.1,11.8L-71.1,13.0L-72.2,13.0L-73.3,13.0L-73.3,11.2L-75.4,11.2L-76.9,8.6L-75.9,6.0L-73.0,5.0L-72.6,1.2L-73.1,0.2L-73.1,-0.6L-72.3,-1.2L-72.9,-2.0L-70.0,-1.4L-69.2,-0.9L-68.4,-0.9L-66.2,-2.6L-66.8,-3.0L-67.1,-4.8L-65.7,-4.5L-64.7,-5.0L-63.3,-6.1L-62.4,-4.7L-62.6,-3.0L-62.1,-1.7L-60.6,-1.5L-59.5,-2.4L-58.5,-2.4L-56.9,-2.7L-54.8,-3.0Z"/>
<path id="r-morocco" d="M-17.4,-24.8L-16.3,-27.8L-15.0,-30.1L-13.1,-32.7L-11.1,-34.0L-10.0,-35.2L-9.7,-37.2L-8.4,-39.4L-6.7,-40.3L-5.8,-42.3L-2.2,-41.5L-1.7,-39.0L-1.2,-38.1L-3.5,-36.6L-5.5,-35.2L-8.8,-33.9L-8.8,-32.3L-8.8,-30.7L-12.2,-30.7L-12.2,-27.7L-13.3,-27.2L-13.3,-25.2Z"/>
<path id="r-algeria" d="M-2.2,-41.5L0.0,-42.3L2.9,-43.5L6.8,-43.7L8.4,-43.6L8.2,-41.4L7.4,-40.1L9.0,-37.9L9.5,-35.8L10.0,-33.1L9.5,-31.1L10.2,-29.0L12.2,-27.8L7.7,-24.6L6.2,-23.1L4.3,-22.6L3.3,-23.4L1.2,-24.9L-4.9,-29.6L-8.8,-32.3L-8.8,-33.9L-5.5,-35.2L-3.5,-36.6L-1.2,-38.1L-1.7,-39.0Z"/>
<path id="r-tunisia" d="M8.4,-43.6L9.7,-44.1L10.7,-43.7L10.3,-42.6L10.9,-40.8L9.9,-40.2L11.4,-39.2L10.3,-37.5L9.5,-35.8L9.0,-37.9L7.4,-40.1L8.2,-41.4Z"/>
<path id="r-libya" d="M11.4,-39.2L12.9,-38.9L15.1,-38.2L16.0,-37.0L18.0,-36.1L20.0,-36.4L19.9,-37.8L21.3,-38.9L22.9,-38.5L24.9,-37.4L25.6,-26.0L25.6,-23.6L24.6,-23.6L24.6,-23.1L16.3,-27.8L15.3,-27.2L12.2,-27.8L10.2,-29.0L9.5,-31.1L10.0,-33.1L9.5,-35.8L10.3,-37.5Z"/>
<path id="r-egypt" d="M24.9,-37.4L27.0,-37.0L29.0,-36.5L30.9,-37.2L32.2,-37.0L34.1,-37.0L35.0,-34.9L34.7,-33.1L34.5,-32.7L33.4,-33.7L32.7,-35.5L32.8,-34.3L33.8,-32.5L35.0,-30.1L36.1,-28.4L36.4,-27.2L37.7,-26.0L25.6,-26.0Z"/>
<path id="r-mali" d="M-4.9,-29.6L1.2,-24.9L3.3,-23.4L4.3,-22.6L4.3,-19.9L3.6,-18.3L1.0,-17.7L0.2,-17.6L-2.1,-16.8L-4.1,-15.7L-5.5,-13.9L-5.7,-12.3L-8.3,-12.1L-9.3,-14.5L-11.8,-14.7L-12.6,-17.5L-11.9,-18.3L-5.7,-18.3L-6.6,-29.6Z"/>
<path id="r-niger" d="M4.3,-22.6L6.2,-23.1L7.7,-24.6L12.2,-27.8L15.3,-27.2L15.9,-24.8L16.0,-20.0L14.1,-16.2L13.0,-15.6L10.4,-15.7L7.8,-15.5L4.1,-16.2L3.7,-13.8L2.9,-14.5L2.3,-14.7L0.9,-16.0L0.2,-17.6L1.0,-17.7L3.6,-18.3L4.3,-19.9Z"/>
<path id="r-chad" d="M15.3,-27.2L16.3,-27.8L24.6,-23.1L24.8,-18.6L22.8,-16.3L23.7,-15.4L23.4,-13.0L24.4,-11.8L25.0,-10.3L23.3,-9.5L19.8,-10.3L17.2,-9.0L15.8,-8.9L16.1,-11.8L14.8,-11.8L15.6,-13.6L15.0,-15.1L14.1,-16.2L16.0,-20.0L15.9,-24.8Z"/>
<path id="r-sudan" d="M25.6,-26.0L37.7,-26.0L38.2,-24.8L38.2,-23.1L39.6,-21.3L38.1,-20.1L37.8,-16.9L37.5,-15.0L36.3,-14.2L35.5,-12.8L34.3,-11.8L34.2,-14.2L32.2,-11.6L29.1,-11.0L27.0,-12.1L25.0,-10.3L24.4,-11.8L23.4,-13.0L23.7,-15.4L22.8,-16.3L24.8,-18.6L24.6,-23.1L24.6,-23.6L25.6,-23.6Z"/>
<path id="r-ethiopia" d="M37.8,-16.9L39.3,-17.4L41.4,-17.1L43.3,-14.8L44.0,-14.7L44.7,-13.0L44.5,-12.8L45.8,-10.6L48.9,-9.5L50.0,-9.5L46.9,-5.9L44.9,-5.0L43.8,-4.8L41.2,-4.1L39.7,-4.3L37.6,-5.2L36.7,-6.3L35.4,-8.3L34.4,-9.5L35.4,-10.0L35.5,-12.8L36.3,-14.2L37.5,-15.0Z"/>
<path id="r-kenya" d="M43.3,2.0L42.0,3.2L41.3,4.8L40.9,5.6L39.2,3.8L35.5,1.2L35.5,-0.6L36.5,-2.1L35.5,-5.0L37.6,-5.2L39.7,-4.3L41.2,-4.1L43.8,-4.8L42.8,-3.5L42.8,-0.0Z"/>
<path id="r-tanzania" d="M40.9,5.6L40.4,7.3L41.1,8.3L40.9,10.0L41.4,11.8L42.0,12.4L39.5,13.4L36.3,13.6L35.9,13.6L35.4,11.3L34.3,11.1L32.3,10.2L30.8,7.7L30.8,5.3L31.8,3.9L32.2,2.7L31.8,1.2L35.5,1.2L39.2,3.8Z"/>
<path id="r-zambia" d="M22.8,15.4L24.9,15.4L24.9,13.0L27.0,13.9L29.5,15.1L30.9,15.8L30.9,14.4L29.5,11.0L30.1,10.0L32.3,10.2L34.3,11.1L34.4,14.8L34.1,16.6L31.2,17.7L31.4,18.4L29.8,18.8L27.8,21.2L26.0,21.0L24.0,20.7L22.7,19.2Z"/>
<path id="r-zimbabwe" d="M26.0,21.0L27.8,21.2L29.8,18.8L31.4,18.4L33.9,19.7L33.7,23.1L33.2,25.2L32.0,26.5L30.0,26.2L28.4,24.2Z"/>
<path id="r-malawi" d="M34.3,11.1L35.4,11.3L35.9,13.6L36.3,13.6L37.1,17.5L36.3,20.1L35.4,18.3L35.7,17.1L34.1,16.6L34.4,14.8Z"/>
<path id="r-mozambique" d="M42.0,12.4L42.1,14.8L42.1,17.5L40.7,19.7L38.1,21.3L35.9,23.6L36.2,26.0L36.1,28.4L33.5,30.1L33.2,31.7L32.4,31.7L32.4,30.5L32.0,26.5L33.2,25.2L33.7,23.1L33.9,19.7L31.4,18.4L31.2,17.7L34.1,16.6L35.7,17.1L35.4,18.3L36.3,20.1L37.1,17.5L36.3,13.6L39.5,13.4Z"/>
<path id="r-safrica" d="M33.2,31.7L32.7,33.7L31.3,35.2L29.9,37.0L28.0,38.8L25.7,40.0L22.7,40.3L19.7,41.1L18.2,40.4L18.1,38.7L17.8,36.6L16.9,34.0L17.6,34.0L20.1,33.6L20.3,29.3L21.0,31.7L23.4,29.9L26.0,30.3L27.5,27.9L30.0,26.2L32.0,26.5L32.4,30.5L32.4,31.7Z"/>
<path id="r-lesotho" d="M27.2,35.0L28.8,33.9L29.5,35.0L28.3,36.2L27.3,35.8Z"/>
<path id="r-namibia" d="M16.9,34.0L15.4,31.7L14.8,28.4L14.7,26.6L13.6,24.2L12.1,21.3L12.1,20.3L14.4,20.6L19.1,20.6L21.6,21.3L24.0,20.7L26.0,21.0L23.7,21.3L21.6,21.6L21.5,26.0L20.4,26.0L20.3,29.3L20.1,33.6L17.6,34.0Z"/>
<path id="r-botswana" d="M20.3,29.3L20.4,26.0L21.5,26.0L21.6,21.6L23.7,21.3L26.0,21.0L28.4,24.2L30.0,26.2L27.5,27.9L26.0,30.3L23.4,29.9L21.0,31.7Z"/>
<path id="r-angola" d="M12.1,20.3L12.4,17.7L14.0,14.8L14.0,12.8L13.5,10.6L12.8,7.1L13.6,7.0L17.2,7.0L17.7,8.9L20.3,8.9L20.8,8.3L22.7,8.6L22.8,13.0L24.9,13.0L24.9,15.4L22.8,15.4L22.7,19.2L24.0,20.7L21.6,21.3L19.1,20.6L14.4,20.6Z"/>
<path id="r-nigeria" d="M9.3,-5.3L7.3,-5.2L5.7,-5.9L4.5,-7.4L2.8,-7.4L2.8,-10.6L3.7,-13.8L4.1,-16.2L7.8,-15.5L10.4,-15.7L13.0,-15.6L14.1,-16.2L15.0,-15.1L15.6,-13.6L14.8,-11.8L13.7,-11.2L12.3,-8.3L10.6,-8.2Z"/>
<path id="r-somalia" d="M44.9,-13.6L45.7,-12.4L47.8,-12.8L50.9,-13.4L53.1,-13.9L52.8,-11.8L51.6,-8.3L50.1,-5.3L48.0,-2.7L45.9,-1.2L43.9,0.9L43.3,2.0L42.8,-0.0L42.8,-3.5L43.8,-4.8L44.9,-5.0L46.9,-5.9L50.0,-9.5L48.9,-9.5L45.8,-10.6L44.5,-12.8L44.7,-13.0Z"/>
<path id="r-drc" d="M12.8,7.1L12.5,5.7L13.6,5.4L15.0,5.7L16.7,4.1L16.9,2.4L18.5,0.6L18.8,-3.0L19.4,-5.1L23.4,-4.8L25.5,-6.0L28.6,-6.0L30.8,-5.3L32.1,-4.1L32.7,-2.6L31.1,-0.6L30.9,1.7L30.5,3.2L30.8,5.3L30.8,7.7L32.3,10.2L30.1,10.0L29.5,11.0L30.9,14.4L30.9,15.8L29.5,15.1L27.0,13.9L24.9,13.0L22.8,13.0L22.7,8.6L20.8,8.3L20.3,8.9L17.7,8.9L17.2,7.0L13.6,7.0Z"/>
<path id="r-russia" d="M23.2,-80.2L24.9,-79.8L27.3,-79.6L30.8,-78.2L32.1,-77.2L31.3,-76.6L27.3,-76.9L25.7,-77.2L27.2,-75.9L27.9,-74.7L30.1,-74.3L32.3,-74.9L31.5,-76.2L33.2,-76.9L34.4,-76.7L33.9,-78.8L35.3,-78.4L35.8,-77.3L37.0,-78.0L40.6,-78.6L41.7,-78.7L44.1,-79.2L45.7,-79.2L49.2,-79.6L52.3,-78.9L50.5,-80.0L49.7,-81.4L49.6,-83.1L51.7,-83.3L53.3,-82.4L54.7,-79.9L55.9,-77.4L57.2,-77.2L56.2,-79.4L55.1,-81.9L54.6,-82.8L57.0,-82.6L58.9,-82.4L57.8,-83.8L61.7,-84.3L61.2,-85.2L64.4,-86.1L67.6,-86.4L70.3,-87.6L72.9,-87.0L73.1,-86.4L76.2,-86.7L78.6,-86.1L80.6,-84.3L86.0,-83.3L88.2,-83.9L92.4,-82.8L95.8,-81.6L98.0,-81.9L101.1,-81.8L101.8,-82.8L106.5,-82.7L110.5,-81.9L113.2,-81.3L116.4,-81.4L120.5,-80.1L123.7,-80.0L126.4,-80.2L127.8,-80.5L129.7,-79.4L132.4,-80.2L136.7,-79.4L142.8,-75.3L142.4,-74.8L141.3,-75.0L145.2,-73.2L144.1,-72.7L142.6,-72.0L141.8,-70.0L137.6,-70.0L138.7,-67.9L140.3,-65.9L142.4,-64.5L141.5,-64.3L141.6,-62.5L141.7,-60.8L141.1,-59.9L138.1,-62.3L134.5,-65.6L133.6,-67.6L133.8,-68.9L134.0,-70.6L134.1,-71.9L131.6,-72.0L128.8,-71.9L129.9,-69.5L128.0,-68.9L124.5,-69.4L122.1,-69.3L120.0,-68.9L119.5,-67.3L119.3,-65.6L118.4,-64.2L120.9,-63.4L122.4,-63.6L125.0,-62.5L126.4,-60.0L128.5,-57.2L128.4,-54.9L127.7,-52.5L126.1,-50.5L124.7,-51.0L124.3,-50.0L124.0,-50.3L123.6,-51.9L124.5,-53.1L123.5,-56.9L120.6,-56.2L115.7,-58.7L112.1,-61.7L109.0,-62.9L106.8,-62.6L107.6,-60.2L107.1,-58.3L103.2,-59.1L100.3,-58.0L95.9,-59.2L92.1,-59.5L88.0,-61.2L88.0,-58.7L83.0,-59.7L80.1,-58.1L79.6,-58.0L77.0,-58.9L74.7,-60.0L72.1,-59.8L68.1,-62.6L64.6,-63.4L62.3,-63.6L60.0,-64.9L56.9,-64.0L54.2,-63.2L54.9,-60.0L52.6,-60.0L49.6,-59.7L46.2,-60.6L44.0,-58.9L43.0,-57.2L44.9,-55.1L45.4,-54.9L44.1,-53.7L44.2,-52.3L45.0,-50.8L46.2,-49.4L44.3,-49.4L42.7,-50.3L41.2,-50.7L39.2,-51.1L37.8,-51.2L36.2,-52.3L34.6,-53.1L34.2,-53.6L34.7,-55.2L35.3,-55.5L36.6,-56.4L36.4,-58.4L34.4,-58.9L32.1,-59.3L30.6,-60.9L29.9,-61.5L28.4,-61.3L27.7,-62.5L28.6,-63.1L26.7,-65.2L24.4,-65.8L23.5,-67.3L23.5,-69.5L25.2,-69.9L23.6,-70.7L23.1,-70.6L24.4,-72.7L23.8,-75.3L22.5,-77.4L21.7,-79.3ZM-137.0,-79.2L-135.2,-77.9L-133.2,-77.1L-133.1,-76.5L-137.6,-74.8L-139.1,-75.1L-140.5,-75.9L-142.8,-75.3ZM37.9,-81.9L39.4,-81.2L42.7,-81.0L40.8,-82.7L40.8,-84.1L42.6,-85.7L46.8,-86.8L44.3,-87.0L40.3,-85.9L39.3,-84.7L38.7,-83.3ZM63.3,-88.7L67.1,-87.9L69.8,-88.3L66.8,-89.6L61.9,-90.3ZM96.3,-85.2L100.8,-85.0L105.1,-85.4L101.1,-86.1L96.3,-86.1ZM124.5,-63.8L127.4,-61.7L129.9,-58.9L131.4,-57.7L132.2,-55.4L133.3,-54.5L132.1,-54.3L130.0,-57.2L127.8,-60.0L125.3,-62.6ZM30.3,-89.8L35.7,-89.6L38.4,-90.2L35.4,-90.7L30.6,-90.3ZM132.3,-81.4L133.6,-81.3L132.6,-81.9L132.0,-81.8ZM17.5,-63.9L19.7,-63.9L19.8,-64.6L18.3,-64.9Z"/>
<path id="r-kazakh" d="M45.4,-54.9L44.9,-55.1L43.0,-57.2L44.0,-58.9L46.2,-60.6L49.6,-59.7L52.6,-60.0L54.9,-60.0L54.2,-63.2L56.9,-64.0L60.0,-64.9L62.3,-63.6L64.6,-63.4L68.1,-62.6L72.1,-59.8L74.7,-60.0L77.0,-58.9L79.6,-58.0L79.0,-55.5L76.6,-55.7L77.1,-53.5L75.2,-52.9L76.3,-49.8L74.9,-50.5L70.5,-51.0L69.6,-50.8L67.3,-50.4L67.1,-49.8L65.9,-48.9L65.1,-48.4L63.6,-48.6L62.9,-49.6L60.9,-51.5L58.5,-51.4L57.3,-52.3L54.6,-53.7L52.4,-53.1L53.1,-48.8L50.1,-49.3L50.3,-49.0L48.8,-50.8L47.4,-51.7L48.0,-52.6L49.5,-53.3L49.3,-54.9L47.6,-55.4Z"/>
<path id="r-mongolia" d="M107.1,-58.3L103.2,-59.1L100.3,-58.0L95.9,-59.2L92.1,-59.5L88.0,-61.2L88.0,-58.7L83.0,-59.7L80.1,-58.1L79.6,-58.0L80.1,-57.8L81.1,-56.9L84.3,-54.6L85.1,-53.3L87.6,-53.0L89.8,-52.2L91.3,-50.5L95.9,-50.3L100.2,-49.3L104.0,-50.2L105.4,-51.6L104.7,-53.1L107.8,-53.7L108.2,-54.6L111.0,-55.1L108.4,-56.6L106.3,-56.5L105.3,-58.7Z"/>
<path id="r-china" d="M119.7,-47.2L118.0,-46.1L116.5,-48.2L115.0,-46.3L114.0,-45.9L116.0,-44.1L117.8,-44.4L119.6,-44.0L117.9,-42.6L117.4,-41.4L120.0,-38.7L121.8,-36.6L122.3,-34.9L122.0,-33.1L121.4,-30.5L120.0,-29.0L119.0,-27.5L116.7,-26.4L114.1,-25.4L113.1,-24.0L112.0,-25.4L110.5,-25.4L109.1,-26.0L107.4,-27.5L105.2,-26.6L104.4,-26.5L103.6,-25.1L101.4,-26.2L100.6,-28.4L99.3,-29.0L100.1,-30.7L98.9,-32.7L98.1,-33.5L96.4,-34.6L94.5,-34.3L92.8,-32.9L89.9,-32.5L89.6,-33.1L89.0,-33.0L86.7,-33.1L83.9,-34.5L81.2,-35.7L78.9,-36.9L78.2,-38.4L78.7,-39.0L77.4,-40.8L76.4,-42.0L73.8,-43.5L72.6,-44.1L71.0,-46.6L73.0,-47.7L75.0,-48.8L76.3,-49.8L75.2,-52.9L77.1,-53.5L76.6,-55.7L79.0,-55.5L79.6,-58.0L80.1,-57.8L81.1,-56.9L84.3,-54.6L85.1,-53.3L87.6,-53.0L89.8,-52.2L91.3,-50.5L95.9,-50.3L100.2,-49.3L104.0,-50.2L105.4,-51.6L104.7,-53.1L107.8,-53.7L108.2,-54.6L111.0,-55.1L108.4,-56.6L106.3,-56.5L105.3,-58.7L107.1,-58.3L107.6,-60.2L106.8,-62.6L109.0,-62.9L112.1,-61.7L115.7,-58.7L120.6,-56.2L123.5,-56.9L124.5,-53.1L123.6,-51.9L124.0,-50.3L124.3,-50.0L121.9,-49.6L120.9,-49.3ZM111.6,-22.7L112.8,-23.8L113.9,-23.2L113.1,-21.8L111.8,-21.9Z"/>
<path id="r-nkorea" d="M124.3,-50.0L124.2,-48.4L122.8,-47.0L124.4,-45.6L123.3,-44.6L121.5,-44.9L120.8,-46.7L119.7,-47.2L120.9,-49.3L121.9,-49.6Z"/>
<path id="r-skorea" d="M124.4,-45.6L126.3,-43.7L127.1,-42.0L126.6,-41.1L124.8,-40.7L123.9,-42.6L123.3,-44.6Z"/>
<path id="r-japan" d="M135.1,-48.8L137.0,-46.7L137.1,-44.7L138.2,-42.2L137.6,-41.4L136.5,-41.0L135.1,-40.5L134.5,-39.6L133.2,-40.8L130.9,-40.4L129.5,-40.2L129.2,-40.8L130.5,-42.0L133.1,-42.1L133.6,-43.6L133.6,-44.3L135.0,-44.2L134.9,-46.7L134.3,-48.1ZM133.9,-49.0L134.1,-50.2L136.4,-49.6L137.5,-51.1L136.4,-52.2L132.5,-53.7L132.9,-52.5L133.6,-51.0L133.2,-50.2ZM128.7,-39.6L129.5,-40.1L131.0,-39.0L131.1,-37.0L130.0,-36.9L128.9,-38.7ZM131.0,-40.2L132.8,-40.4L133.0,-39.4L132.1,-38.8L131.2,-39.4Z"/>
<path id="r-india" d="M91.0,-25.8L89.0,-25.4L88.7,-23.6L87.3,-23.1L85.0,-20.1L83.0,-18.3L83.1,-15.4L82.9,-12.2L82.2,-11.0L81.2,-10.0L80.7,-9.6L79.3,-11.6L77.8,-14.8L76.5,-17.7L74.9,-22.5L74.4,-24.8L73.7,-25.1L72.2,-24.6L70.5,-26.4L71.4,-27.0L69.9,-27.5L69.4,-28.1L70.0,-28.7L72.2,-29.0L71.8,-30.4L70.3,-31.9L70.9,-33.1L72.5,-33.1L73.2,-35.5L74.4,-36.6L74.9,-38.2L73.4,-39.0L72.9,-41.0L75.4,-42.1L76.4,-42.0L77.4,-40.8L78.7,-39.0L78.2,-38.4L78.9,-36.9L81.2,-35.7L80.6,-34.0L83.8,-32.4L86.0,-31.6L89.2,-31.2L89.0,-33.0L89.6,-33.1L89.9,-32.5L89.9,-32.0L90.9,-31.6L93.1,-31.8L92.8,-32.9L94.5,-34.3L96.4,-34.6L98.1,-33.5L98.0,-32.2L96.5,-31.4L96.2,-29.9L95.1,-27.8L94.7,-25.9L94.1,-27.8L93.0,-28.1L93.8,-29.3L91.2,-29.9L91.0,-30.7L89.4,-31.1L89.6,-29.6L90.4,-28.7Z"/>
<path id="r-nepal" d="M80.6,-34.0L81.2,-35.7L83.9,-34.5L86.7,-33.1L89.0,-33.0L89.2,-31.2L86.0,-31.6L83.8,-32.4ZM89.9,-32.5L92.8,-32.9L93.1,-31.8L90.9,-31.6L89.9,-32.0Z"/>
<path id="r-bangladesh" d="M91.0,-25.8L92.5,-26.4L93.8,-26.4L94.5,-24.6L94.7,-25.9L94.1,-27.8L93.0,-28.1L93.8,-29.3L91.2,-29.9L91.0,-30.7L89.4,-31.1L89.6,-29.6L90.4,-28.7Z"/>
<path id="r-pakistan" d="M69.4,-28.1L68.1,-29.3L67.5,-30.0L65.0,-29.9L62.6,-29.8L63.9,-31.9L63.3,-33.3L61.1,-35.2L64.3,-34.9L66.5,-35.3L66.5,-36.6L69.0,-37.7L68.9,-39.1L69.7,-39.4L70.3,-40.3L70.1,-42.9L72.7,-43.7L72.6,-44.1L73.8,-43.5L76.4,-42.0L75.4,-42.1L72.9,-41.0L73.4,-39.0L74.9,-38.2L74.4,-36.6L73.2,-35.5L72.5,-33.1L70.9,-33.1L70.3,-31.9L71.8,-30.4L72.2,-29.0L70.0,-28.7Z"/>
<path id="r-afghan" d="M72.6,-44.1L72.7,-43.7L70.1,-42.9L70.3,-40.3L69.7,-39.4L68.9,-39.1L69.0,-37.7L66.5,-36.6L66.5,-35.3L64.3,-34.9L61.1,-35.2L61.8,-36.6L60.5,-37.8L59.8,-40.5L59.8,-43.3L61.5,-41.7L63.2,-42.9L64.3,-44.2L66.4,-43.7L67.7,-44.4L68.9,-45.4L69.9,-43.5L71.6,-44.2Z"/>
<path id="r-iran" d="M62.6,-29.8L59.7,-30.1L58.0,-30.7L57.4,-32.0L55.2,-31.4L53.0,-32.5L51.1,-34.3L50.1,-35.7L49.0,-35.9L47.7,-36.6L47.6,-38.1L45.6,-39.0L44.9,-40.8L45.4,-42.0L44.4,-42.6L43.7,-44.0L42.7,-46.6L44.7,-46.0L46.3,-46.8L47.4,-45.4L47.5,-45.3L48.9,-44.2L50.8,-43.4L52.6,-43.7L54.4,-45.0L57.0,-44.4L58.6,-43.4L59.8,-43.3L59.8,-40.5L60.5,-37.8L61.8,-36.6L61.1,-35.2L63.3,-33.3L63.9,-31.9Z"/>
<path id="r-azerbaijan" d="M43.0,-48.8L44.3,-49.4L46.2,-49.4L47.4,-47.6L47.5,-45.3L47.4,-45.4L46.3,-46.8L45.0,-46.1L44.8,-47.3Z"/>
<path id="r-turkey" d="M35.2,-42.4L35.4,-43.3L33.7,-43.5L32.3,-42.7L29.9,-43.5L28.7,-42.8L26.7,-43.7L25.6,-45.4L25.9,-46.6L25.2,-47.3L25.6,-47.7L24.9,-48.2L25.1,-49.3L26.6,-49.6L27.5,-48.8L27.8,-48.6L30.1,-48.7L31.9,-49.6L33.3,-49.6L34.9,-48.8L36.9,-48.3L39.6,-49.0L41.6,-48.6L42.1,-47.3L42.7,-46.6L43.7,-44.0L41.4,-43.9L39.1,-43.5L37.1,-43.5L35.9,-43.5L35.5,-42.6Z"/>
<path id="r-saudi" d="M35.2,-34.6L35.3,-33.1L37.0,-30.7L38.7,-28.4L39.9,-25.4L41.5,-23.6L43.2,-21.3L44.2,-19.4L36.3,-34.5L37.6,-35.5L38.0,-36.1L36.9,-37.2L39.0,-38.1L40.2,-37.7L41.9,-36.9L44.9,-34.5L46.7,-34.4L47.8,-34.3L48.5,-33.7L50.0,-32.3L50.8,-31.3L51.6,-29.3L52.4,-28.7L53.7,-27.2L56.4,-26.8L56.8,-26.0L56.4,-23.6L53.4,-22.5L50.4,-22.0L48.4,-20.1L45.8,-20.6L44.6,-20.6Z"/>
<path id="r-iraq" d="M49.0,-35.9L48.1,-35.5L47.8,-34.3L46.7,-34.4L44.9,-34.5L41.9,-36.9L40.2,-37.7L39.0,-38.1L38.4,-39.5L40.5,-40.7L40.4,-43.1L41.4,-43.9L43.7,-44.0L44.4,-42.6L45.4,-42.0L44.9,-40.8L45.6,-39.0L47.6,-38.1L47.7,-36.6Z"/>
<path id="r-myanmar" d="M102.4,-11.8L102.2,-14.8L101.1,-17.7L100.6,-19.5L99.0,-19.6L97.5,-18.9L97.2,-21.3L95.9,-23.4L94.5,-24.6L94.7,-25.9L95.1,-27.8L96.2,-29.9L96.5,-31.4L98.0,-32.2L98.1,-33.5L98.9,-32.7L100.1,-30.7L99.3,-29.0L100.6,-28.4L101.4,-26.2L103.6,-25.1L102.6,-24.0L100.6,-23.3L100.3,-21.9L101.7,-19.3L101.5,-17.7L102.6,-16.0L102.9,-13.9Z"/>
<path id="r-thailand" d="M102.6,-24.0L103.2,-23.1L103.9,-23.1L104.0,-21.0L104.9,-21.5L107.0,-21.6L108.1,-19.5L109.1,-18.3L106.6,-16.9L106.1,-16.0L106.8,-13.8L104.7,-15.0L104.1,-16.0L103.8,-14.2L103.1,-12.2L104.1,-10.0L105.1,-8.3L106.3,-7.3L105.3,-6.9L104.3,-7.7L103.1,-9.2L102.3,-9.5L102.4,-11.8L102.9,-13.9L102.6,-16.0L101.5,-17.7L101.7,-19.3L100.3,-21.9L100.6,-23.3Z"/>
<path id="r-vietnam" d="M110.5,-25.4L109.3,-24.5L108.6,-22.5L110.3,-20.1L111.8,-18.9L113.3,-15.4L113.1,-13.6L111.2,-12.3L109.5,-10.3L108.9,-12.3L110.1,-13.0L111.5,-14.5L111.2,-17.1L110.7,-18.9L108.6,-21.3L106.8,-23.1L107.1,-24.2L105.5,-24.8L104.4,-26.5L105.2,-26.6L107.4,-27.5L109.1,-26.0Z"/>
<path id="r-malaysia" d="M104.3,-7.7L105.3,-6.9L106.3,-7.3L107.8,-5.7L108.0,-3.2L108.8,-1.7L108.0,-1.7L105.7,-3.4L104.7,-5.9ZM114.4,-2.4L116.2,-3.0L117.9,-3.9L119.4,-5.6L120.4,-6.5L121.7,-8.3L122.7,-7.1L124.3,-6.1L123.1,-5.1L120.8,-5.1L120.0,-3.3L118.5,-1.5L115.9,-1.2Z"/>
<path id="r-indonesia" d="M99.4,-6.6L101.7,-6.1L104.4,-3.2L106.0,-2.4L108.1,-0.4L109.1,2.1L110.6,3.5L110.3,6.9L108.9,6.9L106.7,4.7L104.9,1.8L103.4,-0.4L101.8,-2.7L99.6,-5.3ZM109.7,8.0L111.0,7.1L113.1,7.7L115.5,7.6L117.4,8.2L119.2,9.1L119.0,10.3L115.5,9.8L112.5,9.2L110.8,8.7ZM114.4,-2.4L115.9,-1.2L118.5,-1.5L120.0,-3.3L120.8,-5.1L123.1,-5.1L122.6,-3.5L123.2,-2.1L124.3,-1.2L122.7,-0.4L122.7,1.2L121.6,2.4L121.0,4.4L119.5,4.7L117.9,3.9L116.4,3.9L115.0,3.2L114.9,1.5L113.8,0.4L113.8,-1.2ZM125.3,-0.9L126.3,-1.5L129.0,-1.2L130.7,-1.9L130.0,-0.5L126.9,-0.6L125.5,1.1L126.9,1.2L128.8,1.1L127.4,2.2L127.1,3.3L128.3,4.7L127.7,6.3L126.7,5.6L126.3,3.3L125.6,3.4L125.5,6.5L124.6,6.5L124.5,4.1L124.0,3.2L125.0,0.2ZM120.2,9.7L122.8,9.8L124.9,9.8L128.0,9.8L132.2,9.9L130.0,11.1L128.3,12.2L125.9,10.6L123.7,11.3L121.7,10.6L120.2,10.3ZM136.8,0.9L139.9,0.9L140.9,3.9L143.6,1.8L147.2,3.1L146.7,10.8L144.7,9.5L143.6,9.8L143.9,6.5L140.8,5.2L138.8,4.7L137.8,3.0ZM133.1,-2.4L134.4,-1.5L133.7,0.6L133.0,-0.6ZM131.5,3.8L132.7,3.9L136.5,3.8L135.1,4.5L132.0,4.5Z"/>
<path id="r-australia" d="M148.0,12.8L148.8,17.1L150.3,17.7L150.1,21.9L152.3,23.6L153.9,27.0L155.3,30.1L154.6,33.7L152.9,36.6L150.0,39.6L146.7,43.1L145.9,44.3L142.5,45.5L141.5,46.1L140.2,45.3L137.3,45.3L136.4,44.3L136.4,42.3L135.6,42.0L136.7,39.0L134.0,41.1L133.5,41.1L133.1,38.8L130.7,37.2L128.0,37.8L124.1,38.8L122.1,40.2L118.6,40.2L116.2,41.4L113.7,40.5L115.1,37.8L115.3,34.9L115.0,31.3L115.6,28.4L116.6,25.8L119.4,24.4L122.1,23.6L124.8,22.5L126.0,20.3L128.0,19.3L129.8,17.1L131.5,16.6L132.9,17.6L133.9,17.6L135.1,15.0L137.6,13.4L140.0,14.4L141.9,14.3L140.8,16.2L140.1,17.7L142.0,18.9L143.7,20.7L145.0,20.7L146.4,17.7L146.7,14.9ZM138.8,48.1L142.0,48.2L141.0,49.8L138.8,51.4L137.9,51.4L138.2,49.8Z"/>
<path id="r-nz" d="M170.4,40.7L171.2,42.0L171.8,43.4L173.6,44.4L171.8,46.3L170.3,47.3L167.3,49.1L167.0,48.8L168.4,47.3L167.9,46.4L169.8,44.9L170.6,43.4ZM165.8,47.9L166.3,49.0L164.0,50.8L162.8,51.7L160.7,52.5L159.0,54.0L156.6,55.0L155.6,54.5L155.1,54.0L158.4,51.9L161.5,50.7L164.7,48.4Z"/>
<path id="r-iberia" d="M2.9,-50.1L3.0,-49.5L2.1,-48.9L0.3,-47.6L-0.3,-46.6L0.1,-45.7L-0.7,-44.4L-2.0,-43.5L-4.3,-43.4L-5.5,-42.6L-6.3,-43.5L-7.2,-44.0L-8.8,-43.7L-9.2,-45.7L-8.4,-48.4L-8.7,-50.8L-7.5,-51.6L-4.7,-51.4L-1.7,-51.2L0.7,-50.4ZM2.3,-46.8L3.2,-47.2L3.1,-46.6Z"/>
<path id="r-france" d="M-1.7,-51.2L-1.1,-52.5L-1.0,-54.3L-2.0,-55.7L-4.3,-56.6L-4.1,-57.3L-1.5,-57.4L-1.5,-58.5L0.2,-58.3L1.4,-59.5L2.2,-60.1L3.8,-59.1L5.3,-58.3L5.8,-58.3L7.5,-57.7L7.0,-56.1L5.6,-54.6L6.5,-54.2L6.3,-53.1L7.2,-52.1L7.1,-51.7L5.9,-50.9L4.5,-51.2L3.0,-51.0L2.9,-50.1L0.7,-50.4ZM8.3,-50.3L9.0,-50.8L9.1,-49.0L8.4,-49.1Z"/>
<path id="r-benelux" d="M2.2,-60.1L3.1,-60.5L3.7,-61.4L4.3,-62.3L6.2,-62.7L6.2,-61.4L5.4,-60.9L5.5,-59.7L5.7,-58.9L5.8,-58.3L5.3,-58.3L3.8,-59.1Z"/>
<path id="r-germany" d="M6.2,-62.7L7.5,-63.2L7.7,-64.4L8.6,-64.3L9.6,-63.8L11.0,-63.9L12.5,-63.3L13.1,-61.7L13.5,-60.0L11.0,-59.2L12.6,-57.4L12.0,-56.0L9.7,-55.9L8.8,-56.0L7.0,-56.1L7.5,-57.7L5.8,-58.3L5.7,-58.9L5.5,-59.7L5.4,-60.9L6.2,-61.4Z"/>
<path id="r-denmark" d="M7.7,-64.4L7.1,-65.6L7.0,-66.8L8.9,-67.5L8.9,-66.2L9.3,-66.0L8.5,-64.5L8.6,-64.3ZM9.4,-65.3L10.8,-65.6L10.8,-64.8L9.8,-64.6Z"/>
<path id="r-poland" d="M12.5,-63.3L14.4,-64.0L16.2,-64.2L17.4,-63.9L20.0,-63.9L20.7,-63.3L21.2,-61.9L21.2,-60.6L21.6,-59.8L20.7,-58.0L17.3,-58.2L17.1,-58.3L13.5,-60.0L13.1,-61.7Z"/>
<path id="r-baltics" d="M18.3,-64.8L18.0,-66.5L18.8,-67.4L20.1,-66.8L20.7,-67.7L19.7,-69.2L21.8,-69.5L23.5,-69.5L23.5,-67.3L24.4,-65.8L23.1,-65.3L22.5,-63.8L20.7,-63.3L20.0,-63.9L19.8,-64.6Z"/>
<path id="r-belarus" d="M20.7,-63.3L22.5,-63.8L23.1,-65.3L24.4,-65.8L26.7,-65.2L28.6,-63.1L27.7,-62.5L28.4,-61.3L27.4,-60.4L24.2,-60.7L21.5,-60.8L21.2,-60.6L21.2,-61.9Z"/>
<path id="r-ukraine" d="M21.2,-60.6L21.5,-60.8L24.2,-60.7L27.4,-60.4L28.4,-61.3L29.9,-61.5L30.6,-60.9L32.1,-59.3L34.4,-58.9L36.4,-58.4L36.6,-56.4L35.3,-55.5L33.8,-55.1L32.8,-54.6L34.2,-53.6L33.2,-53.1L31.5,-52.4L30.3,-53.6L31.2,-54.3L29.2,-55.0L28.5,-54.7L27.7,-53.5L26.3,-53.7L26.2,-54.9L24.4,-56.8L22.9,-56.2L21.0,-56.6L20.3,-57.0L20.7,-58.0L21.6,-59.8Z"/>
<path id="r-romania" d="M21.0,-56.6L22.9,-56.2L24.4,-56.8L26.2,-54.9L26.3,-53.7L27.7,-53.5L27.0,-51.7L25.4,-52.1L22.6,-51.6L21.2,-52.2L20.1,-52.9L18.9,-54.4Z"/>
<path id="r-bulgaria" d="M21.2,-52.2L22.6,-51.6L25.4,-52.1L27.0,-51.7L26.6,-49.6L25.1,-49.3L23.4,-49.0L22.0,-48.8L21.3,-50.0Z"/>
<path id="r-greece" d="M24.9,-48.2L23.5,-48.3L22.9,-47.3L21.8,-47.9L21.9,-46.4L23.3,-44.9L22.7,-43.1L21.9,-43.1L21.2,-43.5L20.6,-45.3L19.5,-46.8L20.1,-48.2L22.0,-48.8L23.4,-49.0L25.1,-49.3Z"/>
<path id="r-wbalkans" d="M19.5,-46.8L18.5,-49.0L18.4,-49.5L17.6,-50.1L16.6,-50.8L15.0,-52.5L14.8,-53.3L17.8,-53.3L17.7,-54.2L18.9,-54.4L20.1,-52.9L21.2,-52.2L21.3,-50.0L22.0,-48.8L20.1,-48.2Z"/>
<path id="r-croslo" d="M16.6,-50.8L14.6,-51.9L13.6,-53.3L12.8,-53.8L12.6,-54.9L14.8,-55.2L15.3,-54.7L17.5,-54.2L17.7,-54.2L17.8,-53.3L14.8,-53.3L15.0,-52.5Z"/>
<path id="r-husk" d="M14.8,-55.2L15.6,-56.6L15.5,-57.5L17.1,-58.3L17.3,-58.2L20.7,-58.0L20.3,-57.0L21.0,-56.6L18.9,-54.4L17.7,-54.2L17.5,-54.2L15.3,-54.7Z"/>
<path id="r-czat" d="M11.0,-59.2L13.5,-60.0L17.1,-58.3L15.5,-57.5L15.6,-56.6L14.8,-55.2L12.6,-54.9L11.3,-55.4L9.6,-55.3L8.8,-56.0L9.7,-55.9L12.0,-56.0L12.6,-57.4Z"/>
<path id="r-swiss" d="M5.6,-54.6L7.0,-56.1L8.8,-56.0L9.6,-55.3L8.4,-54.2L6.5,-54.2Z"/>
<path id="r-italy" d="M12.8,-53.8L11.5,-53.5L11.7,-52.2L12.8,-51.4L13.5,-50.1L15.2,-49.5L17.8,-47.5L17.7,-47.0L16.3,-47.9L16.0,-46.9L16.5,-46.1L15.7,-44.9L15.3,-44.9L15.5,-46.1L14.7,-47.3L13.7,-48.2L11.7,-49.3L9.9,-50.7L9.6,-51.8L8.4,-52.4L7.1,-51.7L7.2,-52.1L6.3,-53.1L6.5,-54.2L8.4,-54.2L9.6,-55.3L11.3,-55.4L12.6,-54.9ZM8.1,-48.4L9.3,-48.7L9.3,-46.3L8.2,-46.1ZM12.1,-44.9L15.0,-45.2L14.9,-43.4L12.4,-44.4Z"/>
<path id="r-norway" d="M9.4,-68.9L8.9,-69.7L8.0,-68.7L6.1,-67.9L4.7,-68.7L4.2,-70.6L4.1,-72.2L5.7,-73.2L7.6,-74.0L8.6,-75.1L9.8,-76.4L10.8,-77.9L12.2,-79.0L13.9,-80.0L15.7,-80.5L17.8,-81.4L19.3,-81.5L21.1,-81.4L23.2,-80.8L23.2,-80.2L21.7,-79.3L19.6,-80.2L18.9,-79.0L15.9,-79.4L15.6,-79.4L13.7,-78.9L12.7,-77.9L11.4,-76.4L11.0,-74.8L9.8,-73.8L10.3,-71.6L10.0,-70.0ZM7.2,-89.2L10.4,-89.6L13.7,-89.2L12.3,-88.3L11.6,-86.8L9.5,-87.5L8.7,-88.2ZM12.0,-89.7L15.4,-90.0L17.5,-89.6L15.1,-88.9Z"/>
<path id="r-sweden" d="M19.0,-76.2L17.4,-75.9L16.8,-74.6L15.4,-73.5L14.2,-71.6L14.3,-70.7L15.7,-69.8L15.2,-68.9L14.1,-67.6L14.0,-66.2L13.4,-65.8L12.4,-65.1L11.3,-65.0L11.0,-66.2L10.1,-67.5L9.4,-68.9L10.0,-70.0L10.3,-71.6L9.8,-73.8L11.0,-74.8L11.4,-76.4L12.7,-77.9L13.7,-78.9L15.6,-79.4L18.1,-78.3Z"/>
<path id="r-finland" d="M23.1,-70.6L20.8,-70.3L18.8,-70.0L17.6,-71.1L17.3,-72.7L18.1,-73.8L19.8,-75.3L19.9,-76.1L19.0,-76.2L18.1,-78.3L15.6,-79.4L15.9,-79.4L18.9,-79.0L19.6,-80.2L21.7,-79.3L22.5,-77.4L23.8,-75.3L24.4,-72.7Z"/>
<path id="r-gb" d="M-4.7,-58.9L-3.2,-59.2L0.0,-59.8L1.3,-60.2L0.4,-60.6L1.5,-61.9L0.2,-62.3L-0.2,-63.6L-1.3,-64.5L-1.7,-65.6L-2.6,-65.6L-1.7,-67.3L-3.0,-67.5L-2.5,-68.5L-4.2,-68.5L-4.9,-67.3L-4.8,-65.6L-4.4,-64.5L-2.8,-64.4L-2.6,-63.2L-4.0,-62.6L-3.7,-61.5L-4.7,-60.9L-2.9,-60.5L-3.9,-60.0ZM-7.0,-64.0L-6.4,-64.8L-5.2,-64.8L-4.8,-64.0L-5.5,-63.5L-6.6,-63.6Z"/>
<path id="r-ireland" d="M-9.0,-60.8L-7.3,-60.9L-5.6,-61.4L-5.4,-62.9L-5.5,-63.5L-6.6,-63.6L-7.0,-64.0L-6.4,-64.8L-7.4,-64.5L-7.5,-63.8L-8.8,-63.6L-8.4,-62.5L-8.7,-61.6Z"/>
<path id="r-seas" d="M27.8,-48.6L30.1,-48.7L31.9,-49.6L33.3,-49.6L34.9,-48.8L36.9,-48.3L39.6,-49.0L39.4,-50.2L37.8,-51.2L36.2,-52.3L34.6,-53.1L34.2,-53.6L34.7,-55.2L36.0,-55.7L34.8,-54.5L32.8,-54.6L33.2,-53.1L31.5,-52.4L30.3,-53.6L31.2,-54.3L29.2,-55.0L28.5,-54.7L27.7,-53.5L27.0,-51.7L26.6,-49.6L27.5,-48.8ZM45.4,-54.9L47.6,-55.4L49.3,-54.9L49.5,-53.3L48.0,-52.6L47.4,-51.7L48.8,-50.8L50.3,-49.0L51.7,-48.4L51.1,-46.7L52.3,-44.9L52.6,-43.7L50.8,-43.4L48.9,-44.2L47.5,-45.3L47.4,-47.6L46.2,-49.4L45.0,-50.8L44.2,-52.3L44.1,-53.7ZM54.3,-54.9L56.6,-54.9L57.3,-52.5L55.6,-51.7L54.6,-53.1Z"/>
<path id="r-lines" d="M-17.0,-18.9L-14.4,-19.6L-12.6,-17.5M-17.3,-14.5L-14.2,-14.9L-11.8,-14.7M-13.5,-10.6L-10.7,-10.0L-9.7,-8.7L-7.8,-5.2M-12.0,-8.2L-10.7,-10.0M-8.3,-12.1L-8.6,-9.0L-7.8,-5.2M-3.1,-5.9L-2.8,-11.2L-5.7,-12.3M-2.8,-11.2L-2.9,-13.0L0.2,-13.1L0.9,-16.0M1.3,-7.1L0.6,-10.6L0.2,-13.1M2.8,-10.6L1.7,-10.8L0.6,-10.6M10.1,-2.7L13.9,-2.6L16.7,-2.0L16.9,2.4M10.1,-2.7L11.8,-2.6L11.8,-1.2L9.7,-1.2M13.9,-2.6L15.1,1.8L11.5,4.5M15.8,-8.9L15.1,-7.1L15.1,-5.3L16.7,-3.5L16.7,-2.0M19.4,-5.1L16.7,-3.5M16.7,-2.0L18.8,-3.0M25.0,-10.3L26.3,-8.9L28.6,-6.0M32.2,-11.6L34.4,-9.5M35.5,-5.0L32.3,-4.3L32.1,-4.1M35.5,1.2L35.4,-0.1L32.7,-2.6M30.9,1.7L31.8,1.2M39.6,-21.3L38.1,-20.1L37.8,-16.9M44.6,-15.1L43.3,-14.8M39.6,-49.0L41.6,-48.6L43.0,-48.8M42.1,-47.3L44.8,-47.3M35.2,-42.4L35.5,-42.6L35.9,-43.5M38.4,-39.5L35.8,-38.7L35.3,-39.2L34.8,-39.1M39.0,-38.1L38.4,-39.5M35.8,-38.7L35.4,-37.2L35.2,-34.6M34.1,-37.0L34.9,-37.4L35.4,-37.2M54.8,-19.7L53.4,-22.5M56.8,-26.0L57.0,-28.6L57.3,-29.3M35.3,-40.9L36.1,-40.4L35.3,-39.2M50.1,-49.3L53.1,-48.8L52.4,-53.1M53.1,-48.8L54.5,-48.8L55.5,-50.4L57.1,-49.8L59.2,-48.7L64.7,-44.7L64.3,-44.2M52.4,-53.1L54.6,-53.7L57.3,-52.3L58.5,-51.4L60.9,-51.5L62.9,-49.6L63.6,-48.6L65.1,-48.4L65.9,-48.9L67.1,-49.8L67.3,-50.4L69.6,-50.8L70.5,-51.0L74.9,-50.5L76.3,-49.8M66.4,-43.7L65.4,-46.7L65.9,-48.9M68.9,-45.4L71.0,-46.6M65.4,-46.7L67.8,-47.5L71.0,-46.6M67.1,-49.8L68.3,-48.8L67.8,-47.5M109.1,-18.3L111.2,-17.1" fill="none"/>
</defs>
<g transform="translate(243.5,149.6)" stroke="#5f5f5f" stroke-width="0.35" stroke-linejoin="round">
<use href="#grat"/>
<use href="#r-base" fill="#d6cbc7"/>
<use href="#r-canada" fill="#6eb48f"/>
<use href="#r-usa" fill="#d6cbc7"/>
<use href="#r-mexico" fill="#6eb48f"/>
<use href="#r-colombia" fill="#6eb48f"/>
<use href="#r-venezuela" fill="#6eb48f"/>
<use href="#r-guianas" fill="#d6cbc7"/>
<use href="#r-frguiana" fill="#d6cbc7"/>
<use href="#r-ecuador" fill="#d6cbc7"/>
<use href="#r-peru" fill="#6eb48f"/>
<use href="#r-bolivia" fill="#d6cbc7"/>
<use href="#r-paraguay" fill="#d6cbc7"/>
<use href="#r-uruguay" fill="#6eb48f"/>
<use href="#r-argentina" fill="#6eb48f"/>
<use href="#r-chile" fill="#6eb48f"/>
<use href="#r-brazil" fill="#6eb48f"/>
<use href="#r-morocco" fill="#fdba57"/>
<use href="#r-algeria" fill="#fdba57"/>
<use href="#r-tunisia" fill="#d6cbc7"/>
<use href="#r-libya" fill="#d6cbc7"/>
<use href="#r-egypt" fill="#fdba57"/>
<use href="#r-mali" fill="#6eb48f"/>
<use href="#r-niger" fill="#6eb48f"/>
<use href="#r-chad" fill="#d6cbc7"/>
<use href="#r-sudan" fill="#d6cbc7"/>
<use href="#r-ethiopia" fill="#6eb48f"/>
<use href="#r-kenya" fill="#6eb48f"/>
<use href="#r-tanzania" fill="#6eb48f"/>
<use href="#r-zambia" fill="#6eb48f"/>
<use href="#r-zimbabwe" fill="#6eb48f"/>
<use href="#r-malawi" fill="#6eb48f"/>
<use href="#r-mozambique" fill="#d6cbc7"/>
<use href="#r-safrica" fill="#6eb48f"/>
<use href="#r-lesotho" fill="#d6cbc7"/>
<use href="#r-namibia" fill="#d6cbc7"/>
<use href="#r-botswana" fill="#d6cbc7"/>
<use href="#r-angola" fill="#d6cbc7"/>
<use href="#r-nigeria" fill="#d6cbc7"/>
<use href="#r-somalia" fill="#d6cbc7"/>
<use href="#r-drc" fill="#d6cbc7"/>
<use href="#r-russia" fill="#6eb48f"/>
<use href="#r-kazakh" fill="#d6cbc7"/>
<use href="#r-mongolia" fill="#d6cbc7"/>
<use href="#r-china" fill="#f47676"/>
<use href="#r-nkorea" fill="#d6cbc7"/>
<use href="#r-skorea" fill="#d6cbc7"/>
<use href="#r-japan" fill="#6eb48f"/>
<use href="#r-india" fill="#6eb48f"/>
<use href="#r-nepal" fill="#d6cbc7"/>
<use href="#r-bangladesh" fill="#d6cbc7"/>
<use href="#r-pakistan" fill="#d6cbc7"/>
<use href="#r-afghan" fill="#d6cbc7"/>
<use href="#r-iran" fill="#f47676"/>
<use href="#r-azerbaijan" fill="#f47676"/>
<use href="#r-turkey" fill="#6eb48f"/>
<use href="#r-saudi" fill="#6eb48f"/>
<use href="#r-iraq" fill="#d6cbc7"/>
<use href="#r-myanmar" fill="#6eb48f"/>
<use href="#r-thailand" fill="#6eb48f"/>
<use href="#r-vietnam" fill="#f47676"/>
<use href="#r-malaysia" fill="#6eb48f"/>
<use href="#r-indonesia" fill="#6eb48f"/>
<use href="#r-australia" fill="#6eb48f"/>
<use href="#r-nz" fill="#6eb48f"/>
<use href="#r-iberia" fill="#6eb48f"/>
<use href="#r-france" fill="#6eb48f"/>
<use href="#r-benelux" fill="#6eb48f"/>
<use href="#r-germany" fill="#6eb48f"/>
<use href="#r-denmark" fill="#6eb48f"/>
<use href="#r-poland" fill="#6eb48f"/>
<use href="#r-baltics" fill="#6eb48f"/>
<use href="#r-belarus" fill="#f47676"/>
<use href="#r-ukraine" fill="#6eb48f"/>
<use href="#r-romania" fill="#6eb48f"/>
<use href="#r-bulgaria" fill="#6eb48f"/>
<use href="#r-greece" fill="#6eb48f"/>
<use href="#r-wbalkans" fill="#d6cbc7"/>
<use href="#r-croslo" fill="#6eb48f"/>
<use href="#r-husk" fill="#6eb48f"/>
<use href="#r-czat" fill="#6eb48f"/>
<use href="#r-swiss" fill="#6eb48f"/>
<use href="#r-italy" fill="#6eb48f"/>
<use href="#r-norway" fill="#6eb48f"/>
<use href="#r-sweden" fill="#6eb48f"/>
<use href="#r-finland" fill="#6eb48f"/>
<use href="#r-gb" fill="#6eb48f"/>
<use href="#r-ireland" fill="#6eb48f"/>
<use href="#r-lines"/>
<use href="#r-seas" fill="#fff"/>
</g>
<g transform="translate(664.5,149.6)" stroke="#5f5f5f" stroke-width="0.35" stroke-linejoin="round">
<use href="#grat"/>
<use href="#r-base" fill="#d6cbc7"/>
<use href="#r-canada" fill="#f47676"/>
<use href="#r-usa" fill="#d6cbc7"/>
<use href="#r-mexico" fill="#fdba57"/>
<use href="#r-colombia" fill="#f47676"/>
<use href="#r-venezuela" fill="#f47676"/>
<use href="#r-guianas" fill="#d6cbc7"/>
<use href="#r-frguiana" fill="#fdba57"/>
<use href="#r-ecuador" fill="#d6cbc7"/>
<use href="#r-peru" fill="#f47676"/>
<use href="#r-bolivia" fill="#d6cbc7"/>
<use href="#r-paraguay" fill="#d6cbc7"/>
<use href="#r-uruguay" fill="#f47676"/>
<use href="#r-argentina" fill="#f47676"/>
<use href="#r-chile" fill="#f47676"/>
<use href="#r-brazil" fill="#f47676"/>
<use href="#r-morocco" fill="#f47676"/>
<use href="#r-algeria" fill="#f47676"/>
<use href="#r-tunisia" fill="#d6cbc7"/>
<use href="#r-libya" fill="#d6cbc7"/>
<use href="#r-egypt" fill="#f47676"/>
<use href="#r-mali" fill="#f47676"/>
<use href="#r-niger" fill="#f47676"/>
<use href="#r-chad" fill="#d6cbc7"/>
<use href="#r-sudan" fill="#d6cbc7"/>
<use href="#r-ethiopia" fill="#f47676"/>
<use href="#r-kenya" fill="#f47676"/>
<use href="#r-tanzania" fill="#f47676"/>
<use href="#r-zambia" fill="#f47676"/>
<use href="#r-zimbabwe" fill="#f47676"/>
<use href="#r-malawi" fill="#f47676"/>
<use href="#r-mozambique" fill="#d6cbc7"/>
<use href="#r-safrica" fill="#f47676"/>
<use href="#r-lesotho" fill="#d6cbc7"/>
<use href="#r-namibia" fill="#d6cbc7"/>
<use href="#r-botswana" fill="#d6cbc7"/>
<use href="#r-angola" fill="#d6cbc7"/>
<use href="#r-nigeria" fill="#d6cbc7"/>
<use href="#r-somalia" fill="#d6cbc7"/>
<use href="#r-drc" fill="#d6cbc7"/>
<use href="#r-russia" fill="#fdba57"/>
<use href="#r-kazakh" fill="#d6cbc7"/>
<use href="#r-mongolia" fill="#d6cbc7"/>
<use href="#r-china" fill="#f47676"/>
<use href="#r-nkorea" fill="#d6cbc7"/>
<use href="#r-skorea" fill="#d6cbc7"/>
<use href="#r-japan" fill="#6eb48f"/>
<use href="#r-india" fill="#fdba57"/>
<use href="#r-nepal" fill="#d6cbc7"/>
<use href="#r-bangladesh" fill="#d6cbc7"/>
<use href="#r-pakistan" fill="#d6cbc7"/>
<use href="#r-afghan" fill="#d6cbc7"/>
<use href="#r-iran" fill="#f47676"/>
<use href="#r-azerbaijan" fill="#f47676"/>
<use href="#r-turkey" fill="#f47676"/>
<use href="#r-saudi" fill="#f47676"/>
<use href="#r-iraq" fill="#d6cbc7"/>
<use href="#r-myanmar" fill="#f47676"/>
<use href="#r-thailand" fill="#f47676"/>
<use href="#r-vietnam" fill="#f47676"/>
<use href="#r-malaysia" fill="#f47676"/>
<use href="#r-indonesia" fill="#f47676"/>
<use href="#r-australia" fill="#f47676"/>
<use href="#r-nz" fill="#fdba57"/>
<use href="#r-iberia" fill="#fdba57"/>
<use href="#r-france" fill="#fdba57"/>
<use href="#r-benelux" fill="#6eb48f"/>
<use href="#r-germany" fill="#fdba57"/>
<use href="#r-denmark" fill="#fdba57"/>
<use href="#r-poland" fill="#fdba57"/>
<use href="#r-baltics" fill="#fdba57"/>
<use href="#r-belarus" fill="#fdba57"/>
<use href="#r-ukraine" fill="#f47676"/>
<use href="#r-romania" fill="#fdba57"/>
<use href="#r-bulgaria" fill="#fdba57"/>
<use href="#r-greece" fill="#fdba57"/>
<use href="#r-wbalkans" fill="#d6cbc7"/>
<use href="#r-croslo" fill="#6eb48f"/>
<use href="#r-husk" fill="#fdba57"/>
<use href="#r-czat" fill="#6eb48f"/>
<use href="#r-swiss" fill="#fdba57"/>
<use href="#r-italy" fill="#fdba57"/>
<use href="#r-norway" fill="#6eb48f"/>
<use href="#r-sweden" fill="#fdba57"/>
<use href="#r-finland" fill="#fdba57"/>
<use href="#r-gb" fill="#6eb48f"/>
<use href="#r-ireland" fill="#fdba57"/>
<use href="#r-lines"/>
<use href="#r-seas" fill="#fff"/>
</g>
<g transform="translate(243.5,423.2)" stroke="#5f5f5f" stroke-width="0.35" stroke-linejoin="round">
<use href="#grat"/>
<use href="#r-base" fill="#d6cbc7"/>
<use href="#r-canada" fill="#fdba57"/>
<use href="#r-usa" fill="#d6cbc7"/>
<use href="#r-mexico" fill="#fdba57"/>
<use href="#r-colombia" fill="#f47676"/>
<use href="#r-venezuela" fill="#f47676"/>
<use href="#r-guianas" fill="#d6cbc7"/>
<use href="#r-frguiana" fill="#6eb48f"/>
<use href="#r-ecuador" fill="#d6cbc7"/>
<use href="#r-peru" fill="#f47676"/>
<use href="#r-bolivia" fill="#d6cbc7"/>
<use href="#r-paraguay" fill="#d6cbc7"/>
<use href="#r-uruguay" fill="#f47676"/>
<use href="#r-argentina" fill="#f47676"/>
<use href="#r-chile" fill="#6eb48f"/>
<use href="#r-brazil" fill="#6eb48f"/>
<use href="#r-morocco" fill="#f47676"/>
<use href="#r-algeria" fill="#f47676"/>
<use href="#r-tunisia" fill="#d6cbc7"/>
<use href="#r-libya" fill="#d6cbc7"/>
<use href="#r-egypt" fill="#f47676"/>
<use href="#r-mali" fill="#f47676"/>
<use href="#r-niger" fill="#f47676"/>
<use href="#r-chad" fill="#d6cbc7"/>
<use href="#r-sudan" fill="#d6cbc7"/>
<use href="#r-ethiopia" fill="#f47676"/>
<use href="#r-kenya" fill="#f47676"/>
<use href="#r-tanzania" fill="#fdba57"/>
<use href="#r-zambia" fill="#f47676"/>
<use href="#r-zimbabwe" fill="#f47676"/>
<use href="#r-malawi" fill="#f47676"/>
<use href="#r-mozambique" fill="#d6cbc7"/>
<use href="#r-safrica" fill="#fdba57"/>
<use href="#r-lesotho" fill="#d6cbc7"/>
<use href="#r-namibia" fill="#d6cbc7"/>
<use href="#r-botswana" fill="#d6cbc7"/>
<use href="#r-angola" fill="#d6cbc7"/>
<use href="#r-nigeria" fill="#d6cbc7"/>
<use href="#r-somalia" fill="#d6cbc7"/>
<use href="#r-drc" fill="#d6cbc7"/>
<use href="#r-russia" fill="#f47676"/>
<use href="#r-kazakh" fill="#d6cbc7"/>
<use href="#r-mongolia" fill="#d6cbc7"/>
<use href="#r-china" fill="#f47676"/>
<use href="#r-nkorea" fill="#d6cbc7"/>
<use href="#r-skorea" fill="#d6cbc7"/>
<use href="#r-japan" fill="#f47676"/>
<use href="#r-india" fill="#f47676"/>
<use href="#r-nepal" fill="#d6cbc7"/>
<use href="#r-bangladesh" fill="#d6cbc7"/>
<use href="#r-pakistan" fill="#d6cbc7"/>
<use href="#r-afghan" fill="#d6cbc7"/>
<use href="#r-iran" fill="#f47676"/>
<use href="#r-azerbaijan" fill="#f47676"/>
<use href="#r-turkey" fill="#fdba57"/>
<use href="#r-saudi" fill="#f47676"/>
<use href="#r-iraq" fill="#d6cbc7"/>
<use href="#r-myanmar" fill="#f47676"/>
<use href="#r-thailand" fill="#f47676"/>
<use href="#r-vietnam" fill="#f47676"/>
<use href="#r-malaysia" fill="#f47676"/>
<use href="#r-indonesia" fill="#fdba57"/>
<use href="#r-australia" fill="#fdba57"/>
<use href="#r-nz" fill="#6eb48f"/>
<use href="#r-iberia" fill="#6eb48f"/>
<use href="#r-france" fill="#6eb48f"/>
<use href="#r-benelux" fill="#6eb48f"/>
<use href="#r-germany" fill="#6eb48f"/>
<use href="#r-denmark" fill="#6eb48f"/>
<use href="#r-poland" fill="#6eb48f"/>
<use href="#r-baltics" fill="#6eb48f"/>
<use href="#r-belarus" fill="#f47676"/>
<use href="#r-ukraine" fill="#f47676"/>
<use href="#r-romania" fill="#6eb48f"/>
<use href="#r-bulgaria" fill="#6eb48f"/>
<use href="#r-greece" fill="#6eb48f"/>
<use href="#r-wbalkans" fill="#d6cbc7"/>
<use href="#r-croslo" fill="#6eb48f"/>
<use href="#r-husk" fill="#6eb48f"/>
<use href="#r-czat" fill="#6eb48f"/>
<use href="#r-swiss" fill="#6eb48f"/>
<use href="#r-italy" fill="#6eb48f"/>
<use href="#r-norway" fill="#fdba57"/>
<use href="#r-sweden" fill="#6eb48f"/>
<use href="#r-finland" fill="#6eb48f"/>
<use href="#r-gb" fill="#6eb48f"/>
<use href="#r-ireland" fill="#6eb48f"/>
<use href="#r-lines"/>
<use href="#r-seas" fill="#fff"/>
</g>
<g transform="translate(664.5,423.2)" stroke="#5f5f5f" stroke-width="0.35" stroke-linejoin="round">
<use href="#grat"/>
<use href="#r-base" fill="#d6cbc7"/>
<use href="#r-canada" fill="#6eb48f"/>
<use href="#r-usa" fill="#d6cbc7"/>
<use href="#r-mexico" fill="#6eb48f"/>
<use href="#r-colombia" fill="#6eb48f"/>
<use href="#r-venezuela" fill="#6eb48f"/>
<use href="#r-guianas" fill="#d6cbc7"/>
<use href="#r-frguiana" fill="#d6cbc7"/>
<use href="#r-ecuador" fill="#d6cbc7"/>
<use href="#r-peru" fill="#6eb48f"/>
<use href="#r-bolivia" fill="#d6cbc7"/>
<use href="#r-paraguay" fill="#d6cbc7"/>
<use href="#r-uruguay" fill="#6eb48f"/>
<use href="#r-argentina" fill="#6eb48f"/>
<use href="#r-chile" fill="#6eb48f"/>
<use href="#r-brazil" fill="#6eb48f"/>
<use href="#r-morocco" fill="#6eb48f"/>
<use href="#r-algeria" fill="#f47676"/>
<use href="#r-tunisia" fill="#d6cbc7"/>
<use href="#r-libya" fill="#d6cbc7"/>
<use href="#r-egypt" fill="#6eb48f"/>
<use href="#r-mali" fill="#f47676"/>
<use href="#r-niger" fill="#fdba57"/>
<use href="#r-chad" fill="#d6cbc7"/>
<use href="#r-sudan" fill="#d6cbc7"/>
<use href="#r-ethiopia" fill="#f47676"/>
<use href="#r-kenya" fill="#6eb48f"/>
<use href="#r-tanzania" fill="#6eb48f"/>
<use href="#r-zambia" fill="#6eb48f"/>
<use href="#r-zimbabwe" fill="#6eb48f"/>
<use href="#r-malawi" fill="#6eb48f"/>
<use href="#r-mozambique" fill="#d6cbc7"/>
<use href="#r-safrica" fill="#fdba57"/>
<use href="#r-lesotho" fill="#d6cbc7"/>
<use href="#r-namibia" fill="#d6cbc7"/>
<use href="#r-botswana" fill="#d6cbc7"/>
<use href="#r-angola" fill="#d6cbc7"/>
<use href="#r-nigeria" fill="#d6cbc7"/>
<use href="#r-somalia" fill="#d6cbc7"/>
<use href="#r-drc" fill="#d6cbc7"/>
<use href="#r-russia" fill="#f47676"/>
<use href="#r-kazakh" fill="#d6cbc7"/>
<use href="#r-mongolia" fill="#d6cbc7"/>
<use href="#r-china" fill="#f47676"/>
<use href="#r-nkorea" fill="#d6cbc7"/>
<use href="#r-skorea" fill="#d6cbc7"/>
<use href="#r-japan" fill="#6eb48f"/>
<use href="#r-india" fill="#6eb48f"/>
<use href="#r-nepal" fill="#d6cbc7"/>
<use href="#r-bangladesh" fill="#d6cbc7"/>
<use href="#r-pakistan" fill="#d6cbc7"/>
<use href="#r-afghan" fill="#d6cbc7"/>
<use href="#r-iran" fill="#f47676"/>
<use href="#r-azerbaijan" fill="#f47676"/>
<use href="#r-turkey" fill="#6eb48f"/>
<use href="#r-saudi" fill="#6eb48f"/>
<use href="#r-iraq" fill="#d6cbc7"/>
<use href="#r-myanmar" fill="#6eb48f"/>
<use href="#r-thailand" fill="#6eb48f"/>
<use href="#r-vietnam" fill="#f47676"/>
<use href="#r-malaysia" fill="#6eb48f"/>
<use href="#r-indonesia" fill="#6eb48f"/>
<use href="#r-australia" fill="#6eb48f"/>
<use href="#r-nz" fill="#6eb48f"/>
<use href="#r-iberia" fill="#6eb48f"/>
<use href="#r-france" fill="#6eb48f"/>
<use href="#r-benelux" fill="#6eb48f"/>
<use href="#r-germany" fill="#6eb48f"/>
<use href="#r-denmark" fill="#6eb48f"/>
<use href="#r-poland" fill="#6eb48f"/>
<use href="#r-baltics" fill="#6eb48f"/>
<use href="#r-belarus" fill="#f47676"/>
<use href="#r-ukraine" fill="#6eb48f"/>
<use href="#r-romania" fill="#6eb48f"/>
<use href="#r-bulgaria" fill="#6eb48f"/>
<use href="#r-greece" fill="#6eb48f"/>
<use href="#r-wbalkans" fill="#d6cbc7"/>
<use href="#r-croslo" fill="#6eb48f"/>
<use href="#r-husk" fill="#6eb48f"/>
<use href="#r-czat" fill="#6eb48f"/>
<use href="#r-swiss" fill="#6eb48f"/>
<use href="#r-italy" fill="#6eb48f"/>
<use href="#r-norway" fill="#6eb48f"/>
<use href="#r-sweden" fill="#6eb48f"/>
<use href="#r-finland" fill="#6eb48f"/>
<use href="#r-gb" fill="#6eb48f"/>
<use href="#r-ireland" fill="#6eb48f"/>
<use href="#r-lines"/>
<use href="#r-seas" fill="#fff"/>
</g>
</g>
<defs><linearGradient id="fbg" x1="0" y1="0" x2="0" y2="1"><stop offset="0" stop-color="#fff"/><stop offset="0.68" stop-color="#fff"/><stop offset="0.9" stop-color="#efefef"/><stop offset="1" stop-color="#dcdcdc"/></linearGradient><linearGradient id="gg" x1="0" y1="0" x2="0" y2="1"><stop offset="0" stop-color="#ececec"/><stop offset="1" stop-color="#dcdcdc"/></linearGradient><linearGradient id="fade" x1="0" y1="0" x2="1" y2="0"><stop offset="0" stop-color="#fff" stop-opacity="0"/><stop offset="1" stop-color="#fff"/></linearGradient></defs>
<rect x="0" y="524" width="908" height="376" fill="url(#fbg)"/>
<rect x="899" y="524" width="9" height="376" fill="url(#fade)"/>
<rect x="53" y="584.5" width="107" height="123" fill="#ececec"/><rect x="53" y="716.5" width="107" height="85" fill="#ececec"/>
<rect x="54.25" y="586.25" width="105" height="7" fill="#f3f3f3" stroke="#c9c9c9" stroke-width="1"/>
<rect x="54.25" y="604.25" width="105" height="7" fill="#f3f3f3" stroke="#c9c9c9" stroke-width="1"/>
<rect x="54.25" y="623.75" width="105" height="7" fill="#f3f3f3" stroke="#c9c9c9" stroke-width="1"/>
<rect x="54.25" y="641.75" width="105" height="7" fill="#f3f3f3" stroke="#c9c9c9" stroke-width="1"/>
<rect x="54.25" y="661.25" width="105" height="7" fill="#f3f3f3" stroke="#c9c9c9" stroke-width="1"/>
<rect x="54.25" y="680.25" width="105" height="7" fill="#f3f3f3" stroke="#c9c9c9" stroke-width="1"/>
<rect x="54.25" y="699.5" width="105" height="7" fill="#f3f3f3" stroke="#c9c9c9" stroke-width="1"/>
<rect x="54.25" y="718" width="105" height="7" fill="#f3f3f3" stroke="#c9c9c9" stroke-width="1"/>
<rect x="54.25" y="737.5" width="105" height="7" fill="#f3f3f3" stroke="#c9c9c9" stroke-width="1"/>
<rect x="54.25" y="755.75" width="105" height="7" fill="#f3f3f3" stroke="#c9c9c9" stroke-width="1"/>
<rect x="54.25" y="775.5" width="105" height="7" fill="#f3f3f3" stroke="#c9c9c9" stroke-width="1"/>
<rect x="54.25" y="793.75" width="105" height="7" fill="#f3f3f3" stroke="#c9c9c9" stroke-width="1"/>
<rect x="54.25" y="836" width="105.5" height="13" fill="#e6e6e6" stroke="#cfcfcf" stroke-width="1"/>
<path d="M134.25,524H195V595.75H179.5V561.75H134.25Z" fill="#e8e8e8"/>
<path d="M134.25,546V561.75H179.5V595.75H195" fill="none" stroke="#333" stroke-width="1.3"/>
<rect x="195" y="546.25" width="101.75" height="55.00" fill="#fff" stroke="#222" stroke-width="1.3"/>
<rect x="296.75" y="546.25" width="79.50" height="55.00" fill="#fbfefd" stroke="#222" stroke-width="1.3"/>
<rect x="194.5" y="612.5" width="102.25" height="65.50" fill="#7fdfce" stroke="#1f3d3a" stroke-width="1.3"/>
<rect x="194.5" y="678" width="102.25" height="69.50" fill="#95e4d6" stroke="#1f3d3a" stroke-width="1.3"/>
<rect x="296.75" y="612.5" width="104.25" height="48.00" fill="#b6ebe2" stroke="#1f3d3a" stroke-width="1.3"/>
<rect x="296.75" y="660.5" width="104.25" height="43.00" fill="#ecfaf7" stroke="#1f3d3a" stroke-width="1.3"/>
<rect x="296.75" y="703.5" width="104.25" height="44.00" fill="#c4efe7" stroke="#1f3d3a" stroke-width="1.3"/>
<rect x="193.75" y="762.5" width="78.75" height="128.00" fill="url(#gg)" stroke="#444" stroke-width="1.3"/>
<rect x="281.25" y="762.5" width="119.75" height="128.00" fill="url(#gg)" stroke="#444" stroke-width="1.3"/>
<rect x="415.5" y="546.75" width="75.00" height="54.50" fill="#fff" stroke="#222" stroke-width="1.3"/>
<rect x="490.5" y="546.75" width="122.00" height="54.50" fill="#63d9c4" stroke="#1f3d3a" stroke-width="1.3"/>
<rect x="612.5" y="546.75" width="74.50" height="54.50" fill="#e8e8e8" stroke="#333" stroke-width="1.3"/>
<rect x="687" y="546.75" width="97.50" height="54.50" fill="#c6f0e8" stroke="#1f3d3a" stroke-width="1.3"/>
<rect x="789.5" y="543.75" width="109.25" height="159.75" fill="#6adbc6" stroke="#1f3d3a" stroke-width="1.3"/>
<rect x="416.25" y="612.5" width="95.50" height="61.75" fill="#a0e6da" stroke="#1f3d3a" stroke-width="1.3"/>
<rect x="416.25" y="674.25" width="95.50" height="117.75" fill="#bfeee6" stroke="#1f3d3a" stroke-width="1.3"/>
<rect x="416.25" y="792" width="95.50" height="22.50" fill="#5fd8c2" stroke="#1f3d3a" stroke-width="1.3"/>
<rect x="416.25" y="814.5" width="95.50" height="76.00" fill="url(#gg)" stroke="#333" stroke-width="1.3"/>
<rect x="528" y="622.5" width="30.00" height="165.75" fill="#fff" stroke="#222" stroke-width="1.3"/>
<rect x="558" y="622.5" width="97.00" height="22.50" fill="#e9e9e9" stroke="#333" stroke-width="1.3"/>
<rect x="558" y="645" width="97.00" height="143.25" fill="#e9e9e9" stroke="#333" stroke-width="1.3"/>
<rect x="526.75" y="807.5" width="30.00" height="83.00" fill="#fcfcfc" stroke="#222" stroke-width="1.3"/>
<rect x="556.75" y="807.5" width="60.00" height="83.00" fill="#bcede4" stroke="#1f3d3a" stroke-width="1.3"/>
<rect x="616.75" y="807.5" width="38.25" height="83.00" fill="url(#gg)" stroke="#333" stroke-width="1.3"/>
<rect x="679.5" y="623.75" width="105.00" height="97.00" fill="#e9e9e9" stroke="#444" stroke-width="1.3"/>
<rect x="679.5" y="720.75" width="105.00" height="105.50" fill="#e7e7e7" stroke="#444" stroke-width="1.3"/>
<rect x="679.5" y="826.25" width="105.00" height="23.75" fill="#c8f0e9" stroke="#1f3d3a" stroke-width="1.3"/>
<rect x="679.5" y="850" width="105.00" height="40.50" fill="#dff5f1" stroke="#1f3d3a" stroke-width="1.3"/>
<rect x="789.5" y="810.75" width="109.25" height="94.25" fill="#e9f3f1" stroke="#333" stroke-width="1.3"/>
<g stroke="#000" stroke-width="5.4" fill="none" stroke-linejoin="miter"><path d="M43.1,524V543.8L12.25,572.5V880.5L30,906"/><path d="M40.5,543.8H134.25"/><path d="M131.5,524V546.5"/><path d="M197.5,524V546.4"/><path d="M195,543.8H376.75"/><path d="M374.2,524V546.4"/><path d="M417.7,524V546.6"/><path d="M415,544H789.5"/><path d="M786.9,524V601.25M786.9,623.75V890.5"/><path d="M70,906L90.5,889L111,906"/></g>
<path d="M15,613.75H35.75M15,765.25H35.75" stroke="#000" stroke-width="1.3"/>
<text x="246" y="563" text-anchor="middle" font-size="13.6" fill="#4a6966">Bluetooth</text>
<text x="246" y="578" text-anchor="middle" font-size="13.6" fill="#4a6966">Headphones</text>
<text x="246" y="593.75" text-anchor="middle" font-size="13.6" fill="#4a6966">($11.93K)</text>
<text x="336.5" y="571.25" text-anchor="middle" font-size="13.6" fill="#4a6966">MP4&amp;MP3</text>
<text x="336.5" y="586.25" text-anchor="middle" font-size="13.6" fill="#4a6966">($22.39K)</text>
<text x="245.6" y="635" text-anchor="middle" font-size="13.6" fill="#4a6966">Home Theater</text>
<text x="245.6" y="651.25" text-anchor="middle" font-size="13.6" fill="#4a6966">System</text>
<text x="245.6" y="666.25" text-anchor="middle" font-size="13.6" fill="#4a6966">($262.33K)</text>
<text x="245.6" y="710" text-anchor="middle" font-size="13.6" fill="#4a6966">Televisions</text>
<text x="245.6" y="725.5" text-anchor="middle" font-size="13.6" fill="#4a6966">($220.42K)</text>
<text x="349" y="634.25" text-anchor="middle" font-size="13.6" fill="#4a6966">Water Heaters</text>
<text x="349" y="649.25" text-anchor="middle" font-size="13.6" fill="#4a6966">($128.75K)</text>
<text x="349" y="679.25" text-anchor="middle" font-size="13.6" fill="#4a6966">Movie DVD</text>
<text x="349" y="695" text-anchor="middle" font-size="13.6" fill="#4a6966">($47.09K)</text>
<text x="349" y="723.25" text-anchor="middle" font-size="13.6" fill="#4a6966">Car Video</text>
<text x="349" y="738.75" text-anchor="middle" font-size="13.6" fill="#4a6966">($113.86K)</text>
<text x="453" y="563.75" text-anchor="middle" font-size="13.6" fill="#4a6966">Recording</text>
<text x="453" y="578.75" text-anchor="middle" font-size="13.6" fill="#4a6966">Pen</text>
<text x="453" y="594.5" text-anchor="middle" font-size="13.6" fill="#4a6966">($12.80K)</text>
<text x="551.5" y="571.25" text-anchor="middle" font-size="13.6" fill="#4a6966">Camcorders</text>
<text x="551.5" y="586.25" text-anchor="middle" font-size="13.6" fill="#4a6966">($327.59K)</text>
<text x="650" y="563.75" text-anchor="middle" font-size="13.6" fill="#848484" font-style="italic">Cameras</text>
<text x="650" y="578.75" text-anchor="middle" font-size="13.6" fill="#848484" font-style="italic">Camcorders</text>
<text x="650" y="594.5" text-anchor="middle" font-size="13.6" fill="#848484" font-style="italic">Accesso...</text>
<text x="735.6" y="563.75" text-anchor="middle" font-size="13.6" fill="#4a6966">Digital</text>
<text x="735.6" y="578.75" text-anchor="middle" font-size="13.6" fill="#4a6966">Cameras</text>
<text x="735.6" y="594.5" text-anchor="middle" font-size="13.6" fill="#4a6966">($110.21K)</text>
<text x="844" y="613.3" text-anchor="middle" font-size="13.6" fill="#4a6966">Digital SLR</text>
<text x="844" y="628.9" text-anchor="middle" font-size="13.6" fill="#4a6966">Cameras</text>
<text x="844" y="644.4" text-anchor="middle" font-size="13.6" fill="#4a6966">($315.64K)</text>
<text x="464" y="640.75" text-anchor="middle" font-size="13.6" fill="#4a6966">Lamps</text>
<text x="464" y="656.25" text-anchor="middle" font-size="13.6" fill="#4a6966">($195.55K)</text>
<text x="464" y="731.25" text-anchor="middle" font-size="13.6" fill="#4a6966">Microwaves</text>
<text x="464" y="746.25" text-anchor="middle" font-size="13.6" fill="#4a6966">($117.37K)</text>
<text x="463" y="808.75" text-anchor="middle" font-size="13.6" fill="#4a6966">Refrigerator...</text>
<text x="461.5" y="850.5" text-anchor="middle" font-size="13.6" fill="#848484" font-style="italic">Washers</text>
<text x="461.5" y="865.5" text-anchor="middle" font-size="13.6" fill="#848484" font-style="italic">Dryers</text>
<text x="542" y="688" text-anchor="middle" font-size="13.6" fill="#4a6966">Boxed</text>
<text x="542" y="702.5" text-anchor="middle" font-size="13.6" fill="#4a6966">Games</text>
<text x="542" y="718" text-anchor="middle" font-size="13.6" fill="#4a6966">(...</text>
<text x="603.5" y="639.25" text-anchor="middle" font-size="13.6" fill="#848484" font-style="italic">Printers Sca...</text>
<text x="603" y="714.5" text-anchor="middle" font-size="13.6" fill="#848484" font-style="italic">Projectors</text>
<text x="603" y="730" text-anchor="middle" font-size="13.6" fill="#848484" font-style="italic">Screens</text>
<text x="541" y="838.75" text-anchor="middle" font-size="13.6" fill="#4a6966">Fans</text>
<text x="541" y="853.75" text-anchor="middle" font-size="13.6" fill="#4a6966">(...</text>
<text x="586.5" y="838.75" text-anchor="middle" font-size="13.6" fill="#4a6966">Coffee</text>
<text x="586.5" y="854.25" text-anchor="middle" font-size="13.6" fill="#4a6966">Machines</text>
<text x="586.5" y="870" text-anchor="middle" font-size="13.6" fill="#4a6966">($123....</text>
<text x="633" y="847" text-anchor="middle" font-size="13.6" fill="#848484" font-style="italic">Air</text>
<text x="633" y="862" text-anchor="middle" font-size="13.6" fill="#848484" font-style="italic">C...</text>
<text x="729" y="670" text-anchor="middle" font-size="13.6" fill="#848484" font-style="italic">Home Office</text>
<text x="729" y="685.75" text-anchor="middle" font-size="13.6" fill="#848484" font-style="italic">Phones</text>
<text x="730" y="772" text-anchor="middle" font-size="13.6" fill="#848484" font-style="italic">Smart phones</text>
<text x="730" y="786.25" text-anchor="middle" font-size="13.6" fill="#848484" font-style="italic">PDAs</text>
<text x="731" y="842.5" text-anchor="middle" font-size="13.6" fill="#4a6966">Touch Screen...</text>
<text x="731" y="875.75" text-anchor="middle" font-size="13.6" fill="#4a6966">Computers A...</text>
<text x="163.75" y="542" text-anchor="middle" font-size="13.6" fill="#848484" font-style="italic">Temporary</text>
<text x="163" y="557.5" text-anchor="middle" font-size="13.6" fill="#848484" font-style="italic">2</text>
<text x="107" y="651.25" text-anchor="middle" font-size="13.6" fill="#848484" font-style="italic">Temporary 3</text>
<text x="107" y="763.75" text-anchor="middle" font-size="13.6" fill="#848484" font-style="italic">Temporary 4</text>
<text x="107" y="847.5" text-anchor="middle" font-size="13.6" fill="#848484" font-style="italic">Temporary 5</text>
<text x="233.75" y="824.25" text-anchor="middle" font-size="13.6" fill="#848484" font-style="italic">Temporary</text>
<text x="233.75" y="838.75" text-anchor="middle" font-size="13.6" fill="#848484" font-style="italic">1</text>
<text x="334.25" y="832" text-anchor="middle" font-size="13.6" fill="#848484" font-style="italic">VCD DVD</text>
<rect x="908" y="0" width="692" height="900" fill="#fff"/>
<text x="923.5" y="38" font-size="21.5" fill="#1a1a1a" textLength="362" lengthAdjust="spacingAndGlyphs">Superstore Profit Ratio by Category</text>
<text x="923.7" y="70.5" font-size="12.3" fill="#222" stroke="#222" stroke-width="0.25" textLength="281" lengthAdjust="spacingAndGlyphs">Chart shows profit ratio across phones, other tech,</text>
<text x="923.7" y="86.75" font-size="12.3" fill="#222" stroke="#222" stroke-width="0.25" textLength="159.5" lengthAdjust="spacingAndGlyphs">furniture and office supplies.</text>
<text x="923.7" y="116" font-size="12.3" fill="#222" stroke="#222" stroke-width="0.25" font-style="italic" textLength="269" lengthAdjust="spacingAndGlyphs">Note: profit ratios below zero are shown as zero.</text>
<text x="923.7" y="145.5" font-size="12.3" fill="#222" stroke="#222" stroke-width="0.25" textLength="390.5" lengthAdjust="spacingAndGlyphs">Category with maximum profit ratio is highlighted, coloured by region:</text>
<text x="923.7" y="161.75" font-size="12.3" fill="#222" textLength="152" lengthAdjust="spacingAndGlyphs"><tspan fill="#edc948">east</tspan>, <tspan fill="#59a14f">south</tspan>, <tspan fill="#e15759">central</tspan> or <tspan fill="#76b7b2">west</tspan></text>
<text x="1390.5" y="190" font-size="11.6" fill="#a6a6a6" text-anchor="end" textLength="156" lengthAdjust="spacingAndGlyphs">Designed by @theneilrichards</text>
<text x="1390.5" y="205.75" font-size="11.6" fill="#a6a6a6" text-anchor="end" textLength="131" lengthAdjust="spacingAndGlyphs">for #WorkoutWednesday</text>
<path d="M1449,6V226M1331,116H1567" stroke="#8c8c8c" stroke-width="1.1" fill="none"/>
<g stroke="#4d4d4d" stroke-width="0.9"><rect x="1392.5" y="58.75" width="56.5" height="56.75" fill="#d4d4d4"/><rect x="1449" y="51.75" width="63" height="63.75" fill="#edc948"/><rect x="1422.5" y="116.6" width="26.5" height="26.6" fill="#d4d4d4"/><rect x="1449" y="116.6" width="57" height="57.6" fill="#d4d4d4"/></g>
<text x="1415" y="53.75" font-size="8.6" fill="#333" text-anchor="middle">phones</text>
<text x="1453.6" y="47" font-size="8.6" fill="#333" text-anchor="start">other tech</text>
<text x="1479.5" y="87" font-size="8.6" fill="#333" text-anchor="middle">36%</text>
<text x="1421.6" y="155" font-size="8.6" fill="#333" text-anchor="middle">furniture</text>
<text x="1450.6" y="187" font-size="8.6" fill="#333" text-anchor="start">office supplies</text>
<path d="M963.25,238.75V845.5M1060.25,238.75V845.5M1157.25,238.75V845.5M1254.25,238.75V845.5M1351.25,238.75V845.5M1448.25,238.75V845.5M1545.25,238.75V845.5M915,282.5H1594M915,369.25H1594M915,455.6H1594M915,542.25H1594M915,628.75H1594M915,715.4H1594M915,802.0H1594" stroke="#a3a3a3" stroke-width="1" fill="none"/>
<g stroke="#4d4d4d" stroke-width="0.9"><rect x="941.25" y="260.50" width="22" height="22" fill="#d4d4d4"/><rect x="944.25" y="282.50" width="19" height="19" fill="#d4d4d4"/><rect x="963.25" y="282.50" width="23.5" height="23.5" fill="#d4d4d4"/><rect x="963.25" y="254.50" width="28" height="28" fill="#59a14f"/><rect x="1045.50" y="267.75" width="14.75" height="14.75" fill="#76b7b2"/><rect x="1135.25" y="260.50" width="22" height="22" fill="#d4d4d4"/><rect x="1135.75" y="282.50" width="21.5" height="21.5" fill="#d4d4d4"/><rect x="1157.25" y="255.50" width="27" height="27" fill="#d4d4d4"/><rect x="1157.25" y="282.50" width="28.5" height="28.5" fill="#59a14f"/><rect x="1241.00" y="269.25" width="13.25" height="13.25" fill="#d4d4d4"/><rect x="1243.75" y="282.50" width="10.5" height="10.5" fill="#d4d4d4"/><rect x="1254.25" y="260.50" width="22" height="22" fill="#d4d4d4"/><rect x="1254.25" y="282.50" width="22.5" height="22.5" fill="#76b7b2"/><rect x="1337.00" y="268.25" width="14.25" height="14.25" fill="#76b7b2"/><rect x="1425.25" y="259.50" width="23" height="23" fill="#d4d4d4"/><rect x="1427.25" y="282.50" width="21" height="21" fill="#d4d4d4"/><rect x="1448.25" y="282.50" width="22.5" height="22.5" fill="#d4d4d4"/><rect x="1448.25" y="259.00" width="23.5" height="23.5" fill="#edc948"/><rect x="1522.25" y="259.50" width="23" height="23" fill="#d4d4d4"/><rect x="1526.75" y="282.50" width="18.5" height="18.5" fill="#d4d4d4"/><rect x="1545.25" y="282.50" width="25.75" height="25.75" fill="#d4d4d4"/><rect x="1545.25" y="252.75" width="29.75" height="29.75" fill="#edc948"/><rect x="941.55" y="369.25" width="21.7" height="21.7" fill="#d4d4d4"/><rect x="963.25" y="369.25" width="28.5" height="28.5" fill="#d4d4d4"/><rect x="963.25" y="339.25" width="30" height="30" fill="#edc948"/><rect x="1046.85" y="355.85" width="13.4" height="13.4" fill="#59a14f"/><rect x="1134.75" y="346.75" width="22.5" height="22.5" fill="#d4d4d4"/><rect x="1135.75" y="369.25" width="21.5" height="21.5" fill="#d4d4d4"/><rect x="1157.25" y="342.75" width="26.5" height="26.5" fill="#d4d4d4"/><rect x="1157.25" y="369.25" width="26" height="26" fill="#59a14f"/><rect x="1242.50" y="357.50" width="11.75" height="11.75" fill="#d4d4d4"/><rect x="1234.85" y="369.25" width="19.4" height="19.4" fill="#d4d4d4"/><rect x="1254.25" y="369.25" width="20" height="20" fill="#d4d4d4"/><rect x="1254.25" y="341.00" width="28.25" height="28.25" fill="#76b7b2"/><rect x="1337.50" y="355.50" width="13.75" height="13.75" fill="#d4d4d4"/><rect x="1351.25" y="349.25" width="20" height="20" fill="#e15759"/><rect x="1425.25" y="346.25" width="23" height="23" fill="#d4d4d4"/><rect x="1429.50" y="369.25" width="18.75" height="18.75" fill="#d4d4d4"/><rect x="1448.25" y="369.25" width="24.75" height="24.75" fill="#d4d4d4"/><rect x="1448.25" y="339.75" width="29.5" height="29.5" fill="#e15759"/><rect x="1522.50" y="346.50" width="22.75" height="22.75" fill="#d4d4d4"/><rect x="1525.75" y="369.25" width="19.5" height="19.5" fill="#d4d4d4"/><rect x="1545.25" y="369.25" width="28.75" height="28.75" fill="#e15759"/><rect x="944.00" y="436.35" width="19.25" height="19.25" fill="#d4d4d4"/><rect x="963.25" y="432.35" width="23.25" height="23.25" fill="#d4d4d4"/><rect x="963.25" y="455.60" width="24.6" height="24.6" fill="#d4d4d4"/><rect x="938.25" y="455.60" width="25" height="25" fill="#e15759"/><rect x="1037.65" y="433.00" width="22.6" height="22.6" fill="#d4d4d4"/><rect x="1038.05" y="455.60" width="22.2" height="22.2" fill="#d4d4d4"/><rect x="1060.25" y="455.60" width="24.5" height="24.5" fill="#d4d4d4"/><rect x="1060.25" y="429.20" width="26.4" height="26.4" fill="#59a14f"/><rect x="1135.25" y="433.60" width="22" height="22" fill="#d4d4d4"/><rect x="1136.50" y="455.60" width="20.75" height="20.75" fill="#d4d4d4"/><rect x="1157.25" y="455.60" width="16.5" height="16.5" fill="#d4d4d4"/><rect x="1157.25" y="428.60" width="27" height="27" fill="#59a14f"/><rect x="1230.65" y="432.00" width="23.6" height="23.6" fill="#d4d4d4"/><rect x="1230.25" y="455.60" width="24" height="24" fill="#d4d4d4"/><rect x="1254.25" y="428.85" width="26.75" height="26.75" fill="#d4d4d4"/><rect x="1254.25" y="455.60" width="28" height="28" fill="#edc948"/><rect x="1329.25" y="433.60" width="22" height="22" fill="#d4d4d4"/><rect x="1331.75" y="455.60" width="19.5" height="19.5" fill="#d4d4d4"/><rect x="1351.25" y="455.60" width="26.5" height="26.5" fill="#d4d4d4"/><rect x="1351.25" y="428.35" width="27.25" height="27.25" fill="#edc948"/><rect x="1425.35" y="432.70" width="22.9" height="22.9" fill="#d4d4d4"/><rect x="1434.25" y="455.60" width="14" height="14" fill="#d4d4d4"/><rect x="1448.25" y="455.60" width="25.2" height="25.2" fill="#d4d4d4"/><rect x="1448.25" y="429.60" width="26" height="26" fill="#edc948"/><rect x="1522.85" y="433.20" width="22.4" height="22.4" fill="#d4d4d4"/><rect x="1525.50" y="455.60" width="19.75" height="19.75" fill="#d4d4d4"/><rect x="1545.25" y="431.50" width="24.1" height="24.1" fill="#d4d4d4"/><rect x="1545.25" y="455.60" width="27.25" height="27.25" fill="#e15759"/><rect x="941.50" y="520.50" width="21.75" height="21.75" fill="#d4d4d4"/><rect x="941.25" y="542.25" width="22" height="22" fill="#d4d4d4"/><rect x="963.25" y="542.25" width="27.25" height="27.25" fill="#d4d4d4"/><rect x="963.25" y="514.85" width="27.4" height="27.4" fill="#e15759"/><rect x="1037.35" y="519.35" width="22.9" height="22.9" fill="#d4d4d4"/><rect x="1040.00" y="542.25" width="20.25" height="20.25" fill="#d4d4d4"/><rect x="1060.25" y="542.25" width="25.4" height="25.4" fill="#d4d4d4"/><rect x="1060.25" y="515.65" width="26.6" height="26.6" fill="#59a14f"/><rect x="1130.00" y="515.00" width="27.25" height="27.25" fill="#d4d4d4"/><rect x="1137.15" y="542.25" width="20.1" height="20.1" fill="#d4d4d4"/><rect x="1157.25" y="542.25" width="20.75" height="20.75" fill="#d4d4d4"/><rect x="1157.25" y="514.00" width="28.25" height="28.25" fill="#e15759"/><rect x="1239.65" y="527.65" width="14.6" height="14.6" fill="#d4d4d4"/><rect x="1229.25" y="542.25" width="25" height="25" fill="#d4d4d4"/><rect x="1254.25" y="542.25" width="16.9" height="16.9" fill="#d4d4d4"/><rect x="1254.25" y="512.75" width="29.5" height="29.5" fill="#76b7b2"/><rect x="1329.15" y="542.25" width="22.1" height="22.1" fill="#d4d4d4"/><rect x="1351.25" y="518.50" width="23.75" height="23.75" fill="#d4d4d4"/><rect x="1351.25" y="542.25" width="21.9" height="21.9" fill="#d4d4d4"/><rect x="1327.85" y="518.85" width="23.4" height="23.4" fill="#e15759"/><rect x="1435.15" y="529.15" width="13.1" height="13.1" fill="#d4d4d4"/><rect x="1433.50" y="542.25" width="14.75" height="14.75" fill="#d4d4d4"/><rect x="1448.25" y="528.15" width="14.1" height="14.1" fill="#d4d4d4"/><rect x="1448.25" y="542.25" width="25" height="25" fill="#76b7b2"/><rect x="1521.35" y="518.35" width="23.9" height="23.9" fill="#d4d4d4"/><rect x="1532.85" y="542.25" width="12.4" height="12.4" fill="#d4d4d4"/><rect x="1545.25" y="521.15" width="21.1" height="21.1" fill="#d4d4d4"/><rect x="1545.25" y="542.25" width="26.1" height="26.1" fill="#edc948"/><rect x="939.15" y="604.65" width="24.1" height="24.1" fill="#d4d4d4"/><rect x="946.35" y="628.75" width="16.9" height="16.9" fill="#d4d4d4"/><rect x="963.25" y="605.50" width="23.25" height="23.25" fill="#d4d4d4"/><rect x="963.25" y="628.75" width="24.1" height="24.1" fill="#edc948"/><rect x="1044.25" y="612.75" width="16" height="16" fill="#d4d4d4"/><rect x="1043.25" y="628.75" width="17" height="17" fill="#d4d4d4"/><rect x="1060.25" y="608.00" width="20.75" height="20.75" fill="#d4d4d4"/><rect x="1060.25" y="628.75" width="27.75" height="27.75" fill="#76b7b2"/><rect x="1134.25" y="605.75" width="23" height="23" fill="#d4d4d4"/><rect x="1146.25" y="628.75" width="11" height="11" fill="#d4d4d4"/><rect x="1157.25" y="628.75" width="23.1" height="23.1" fill="#d4d4d4"/><rect x="1157.25" y="602.75" width="26" height="26" fill="#edc948"/><rect x="1241.15" y="615.65" width="13.1" height="13.1" fill="#59a14f"/><rect x="1351.25" y="628.75" width="21.9" height="21.9" fill="#e15759"/><rect x="1523.25" y="628.75" width="22" height="22" fill="#d4d4d4"/><rect x="1545.25" y="608.35" width="20.4" height="20.4" fill="#d4d4d4"/><rect x="1545.25" y="628.75" width="20.4" height="20.4" fill="#d4d4d4"/><rect x="1523.00" y="606.50" width="22.25" height="22.25" fill="#e15759"/><rect x="963.25" y="715.40" width="8" height="8" fill="#d4d4d4"/><rect x="952.50" y="704.65" width="10.75" height="10.75" fill="#76b7b2"/><rect x="1060.25" y="709.40" width="6" height="6" fill="#edc948"/><rect x="1137.75" y="695.90" width="19.5" height="19.5" fill="#d4d4d4"/><rect x="1140.35" y="715.40" width="16.9" height="16.9" fill="#d4d4d4"/><rect x="1157.25" y="715.40" width="23" height="23" fill="#d4d4d4"/><rect x="1157.25" y="686.00" width="29.4" height="29.4" fill="#edc948"/><rect x="1231.50" y="692.65" width="22.75" height="22.75" fill="#d4d4d4"/><rect x="1235.25" y="715.40" width="19" height="19" fill="#d4d4d4"/><rect x="1254.25" y="715.40" width="19" height="19" fill="#d4d4d4"/><rect x="1254.25" y="691.90" width="23.5" height="23.5" fill="#59a14f"/><rect x="1331.75" y="715.40" width="19.5" height="19.5" fill="#d4d4d4"/><rect x="1351.25" y="715.40" width="24.4" height="24.4" fill="#d4d4d4"/><rect x="1351.25" y="690.00" width="25.4" height="25.4" fill="#e15759"/><rect x="1435.75" y="702.90" width="12.5" height="12.5" fill="#59a14f"/><rect x="1530.65" y="700.80" width="14.6" height="14.6" fill="#e15759"/><rect x="946.50" y="785.25" width="16.75" height="16.75" fill="#d4d4d4"/><rect x="948.00" y="802.00" width="15.25" height="15.25" fill="#d4d4d4"/><rect x="963.25" y="778.50" width="23.5" height="23.5" fill="#d4d4d4"/><rect x="963.25" y="802.00" width="24.75" height="24.75" fill="#76b7b2"/><rect x="1038.35" y="780.10" width="21.9" height="21.9" fill="#d4d4d4"/><rect x="1039.25" y="802.00" width="21" height="21" fill="#d4d4d4"/><rect x="1060.25" y="802.00" width="22.75" height="22.75" fill="#d4d4d4"/><rect x="1060.25" y="776.00" width="26" height="26" fill="#edc948"/><rect x="1134.85" y="779.60" width="22.4" height="22.4" fill="#d4d4d4"/><rect x="1137.65" y="802.00" width="19.6" height="19.6" fill="#d4d4d4"/><rect x="1157.25" y="802.00" width="23.1" height="23.1" fill="#d4d4d4"/><rect x="1157.25" y="776.60" width="25.4" height="25.4" fill="#59a14f"/><rect x="1242.25" y="790.00" width="12" height="12" fill="#d4d4d4"/><rect x="1237.75" y="802.00" width="16.5" height="16.5" fill="#d4d4d4"/><rect x="1254.25" y="802.00" width="23.25" height="23.25" fill="#d4d4d4"/><rect x="1254.25" y="776.00" width="26" height="26" fill="#76b7b2"/><rect x="1351.25" y="802.00" width="30.5" height="30.5" fill="#edc948"/><rect x="1425.50" y="779.25" width="22.75" height="22.75" fill="#d4d4d4"/><rect x="1428.00" y="802.00" width="20.25" height="20.25" fill="#d4d4d4"/><rect x="1448.25" y="777.50" width="24.5" height="24.5" fill="#d4d4d4"/><rect x="1448.25" y="802.00" width="24.4" height="24.4" fill="#e15759"/><rect x="1534.25" y="802.00" width="11" height="11" fill="#76b7b2"/></g>
<g font-size="8.8" text-anchor="middle"><text x="977.25" y="271.70" fill="#fff">41%</text><text x="976" y="322.40" fill="#222" stroke="#222" stroke-width="0.2">Alabama</text><text x="1052.88" y="278.32" fill="#1d1d1d" font-weight="bold">11%</text><text x="1059" y="322.40" fill="#222" stroke="#222" stroke-width="0.2">Arizona</text><text x="1171.50" y="299.95" fill="#fff">43%</text><text x="1170" y="322.40" fill="#222" stroke="#222" stroke-width="0.2">Arkansas</text><text x="1265.50" y="296.95" fill="#1d1d1d">27%</text><text x="1264" y="322.40" fill="#222" stroke="#222" stroke-width="0.2">California</text><text x="1344.12" y="278.57" fill="#1d1d1d" font-weight="bold">11%</text><text x="1350.5" y="322.40" fill="#222" stroke="#222" stroke-width="0.2">Colorado</text><text x="1460.00" y="273.95" fill="#1d1d1d">29%</text><text x="1458.75" y="322.40" fill="#222" stroke="#222" stroke-width="0.2">Connecticut</text><text x="1560.12" y="270.82" fill="#1d1d1d">47%</text><text x="1559" y="322.40" fill="#222" stroke="#222" stroke-width="0.2">Delaware</text><text x="978.25" y="357.45" fill="#1d1d1d">47%</text><text x="972" y="409.15" fill="#222" stroke="#222" stroke-width="0.2">District of Columbia</text><text x="1053.55" y="365.75" fill="#1d1d1d" font-weight="bold">9%</text><text x="1059" y="409.15" fill="#222" stroke="#222" stroke-width="0.2">Florida</text><text x="1170.25" y="385.45" fill="#fff">37%</text><text x="1170" y="409.15" fill="#222" stroke="#222" stroke-width="0.2">Georgia</text><text x="1268.38" y="358.32" fill="#1d1d1d">42%</text><text x="1267" y="409.15" fill="#222" stroke="#222" stroke-width="0.2">Idaho</text><text x="1361.25" y="362.45" fill="#fff">21%</text><text x="1360" y="409.15" fill="#222" stroke="#222" stroke-width="0.2">Illinois</text><text x="1463.00" y="357.70" fill="#fff">45%</text><text x="1462" y="409.15" fill="#222" stroke="#222" stroke-width="0.2">Indiana</text><text x="1559.62" y="386.82" fill="#fff">44%</text><text x="1558.75" y="409.15" fill="#222" stroke="#222" stroke-width="0.2">Iowa</text><text x="950.75" y="471.30" fill="#fff">33%</text><text x="974.25" y="495.50" fill="#222" stroke="#222" stroke-width="0.2">Kansas</text><text x="1073.45" y="445.60" fill="#fff">37%</text><text x="1072.5" y="495.50" fill="#222" stroke="#222" stroke-width="0.2">Kentucky</text><text x="1170.75" y="445.30" fill="#fff">39%</text><text x="1169.5" y="495.50" fill="#222" stroke="#222" stroke-width="0.2">Louisiana</text><text x="1268.25" y="472.80" fill="#1d1d1d">42%</text><text x="1267.5" y="495.50" fill="#222" stroke="#222" stroke-width="0.2">Maine</text><text x="1364.88" y="445.18" fill="#1d1d1d">39%</text><text x="1364.25" y="495.50" fill="#222" stroke="#222" stroke-width="0.2">Maryland</text><text x="1461.25" y="445.80" fill="#1d1d1d">35%</text><text x="1459.75" y="495.50" fill="#222" stroke="#222" stroke-width="0.2">Massachusetts</text><text x="1558.88" y="472.43" fill="#fff">40%</text><text x="1558.25" y="495.50" fill="#222" stroke="#222" stroke-width="0.2">Michigan</text><text x="976.95" y="531.75" fill="#fff">40%</text><text x="976" y="582.15" fill="#222" stroke="#222" stroke-width="0.2">Minnesota</text><text x="1073.55" y="532.15" fill="#fff">38%</text><text x="1072.5" y="582.15" fill="#222" stroke="#222" stroke-width="0.2">Mississippi</text><text x="1171.38" y="531.33" fill="#fff">43%</text><text x="1170.5" y="582.15" fill="#222" stroke="#222" stroke-width="0.2">Missouri</text><text x="1269.00" y="530.70" fill="#1d1d1d">46%</text><text x="1268" y="582.15" fill="#222" stroke="#222" stroke-width="0.2">Montana</text><text x="1339.55" y="533.75" fill="#fff">29%</text><text x="1362" y="582.15" fill="#222" stroke="#222" stroke-width="0.2">Nebraska</text><text x="1460.75" y="557.95" fill="#1d1d1d">33%</text><text x="1459.25" y="582.15" fill="#222" stroke="#222" stroke-width="0.2">Nevada</text><text x="1558.30" y="558.50" fill="#1d1d1d">37%</text><text x="1557.5" y="582.15" fill="#222" stroke="#222" stroke-width="0.2">New Hampshire</text><text x="975.30" y="644.00" fill="#1d1d1d">31%</text><text x="974.5" y="668.65" fill="#222" stroke="#222" stroke-width="0.2">New Jersey</text><text x="1074.12" y="645.83" fill="#1d1d1d">41%</text><text x="1073.25" y="668.65" fill="#222" stroke="#222" stroke-width="0.2">New Mexico</text><text x="1170.25" y="618.95" fill="#1d1d1d">36%</text><text x="1169" y="668.65" fill="#222" stroke="#222" stroke-width="0.2">New York</text><text x="1247.70" y="625.40" fill="#1d1d1d" font-weight="bold">10%</text><text x="1253.75" y="668.65" fill="#222" stroke="#222" stroke-width="0.2">North Carolina</text><text x="1362.20" y="642.90" fill="#fff">25%</text><text x="1361" y="668.65" fill="#222" stroke="#222" stroke-width="0.2">North Dakota</text><text x="1447.75" y="632.05" fill="#111" font-weight="bold">0%</text><text x="1447.5" y="668.65" fill="#222" stroke="#222" stroke-width="0.2">Ohio</text><text x="1534.12" y="620.83" fill="#fff">26%</text><text x="1554.25" y="668.65" fill="#222" stroke="#222" stroke-width="0.2">Oklahoma</text><text x="957.88" y="713.23" fill="#1d1d1d" font-weight="bold">6%</text><text x="966.25" y="755.30" fill="#222" stroke="#222" stroke-width="0.2">Oregon</text><text x="1063.25" y="715.60" fill="#1d1d1d" font-weight="bold">2%</text><text x="1062.5" y="755.30" fill="#222" stroke="#222" stroke-width="0.2">Pennsylvania</text><text x="1171.95" y="703.90" fill="#1d1d1d">46%</text><text x="1171.25" y="755.30" fill="#222" stroke="#222" stroke-width="0.2">Rhode Island</text><text x="1266.00" y="706.85" fill="#fff">29%</text><text x="1264.75" y="755.30" fill="#222" stroke="#222" stroke-width="0.2">South Carolina</text><text x="1363.95" y="705.90" fill="#fff">34%</text><text x="1363" y="755.30" fill="#222" stroke="#222" stroke-width="0.2">South Dakota</text><text x="1442.00" y="712.35" fill="#1d1d1d" font-weight="bold">8%</text><text x="1447.25" y="755.30" fill="#222" stroke="#222" stroke-width="0.2">Tennessee</text><text x="1537.95" y="711.30" fill="#1d1d1d" font-weight="bold">11%</text><text x="1545.25" y="755.30" fill="#222" stroke="#222" stroke-width="0.2">Texas</text><text x="975.62" y="817.58" fill="#1d1d1d">33%</text><text x="974.5" y="841.90" fill="#222" stroke="#222" stroke-width="0.2">Utah</text><text x="1073.25" y="792.20" fill="#1d1d1d">36%</text><text x="1072.25" y="841.90" fill="#222" stroke="#222" stroke-width="0.2">Vermont</text><text x="1169.95" y="792.50" fill="#fff">34%</text><text x="1169" y="841.90" fill="#222" stroke="#222" stroke-width="0.2">Virginia</text><text x="1267.25" y="792.20" fill="#1d1d1d">35%</text><text x="1266.25" y="841.90" fill="#222" stroke="#222" stroke-width="0.2">Washington</text><text x="1366.50" y="820.45" fill="#1d1d1d">49%</text><text x="1365.25" y="841.90" fill="#222" stroke="#222" stroke-width="0.2">West Virginia</text><text x="1460.45" y="817.40" fill="#fff">32%</text><text x="1459.75" y="841.90" fill="#222" stroke="#222" stroke-width="0.2">Wisconsin</text><text x="1539.75" y="810.70" fill="#1d1d1d" font-weight="bold">6%</text><text x="1538.75" y="841.90" fill="#222" stroke="#222" stroke-width="0.2">Wyoming</text></g>
<text x="919.5" y="880.5" font-size="8.8" fill="#777" textLength="111" lengthAdjust="spacingAndGlyphs">CHALLENGE: Neil Richards</text>
<text x="1124.5" y="880.5" font-size="8.8" fill="#777" textLength="90" lengthAdjust="spacingAndGlyphs">#WOW2018 Week 35</text>
<text x="1289.5" y="880.5" font-size="8.8" fill="#777" textLength="99" lengthAdjust="spacingAndGlyphs">DATA: Superstore 2023</text>
<text x="1454.5" y="880.5" font-size="8.8" fill="#777" textLength="134.5" lengthAdjust="spacingAndGlyphs">RECREATED BY: JLL EMEA Team</text>
</svg>
</body></html>
